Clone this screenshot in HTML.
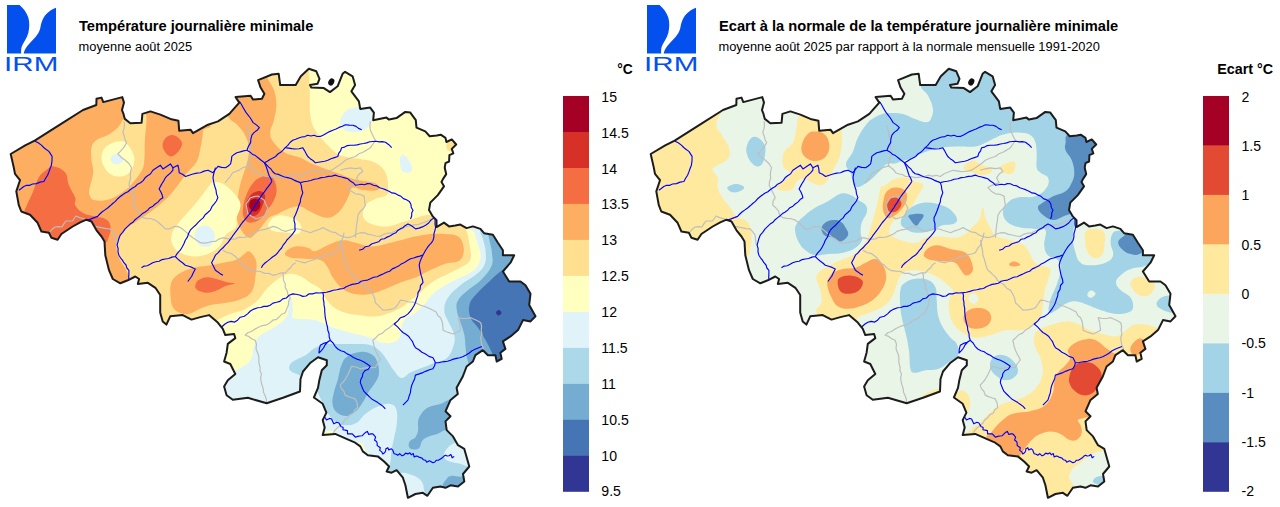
<!DOCTYPE html>
<html><head><meta charset="utf-8"><title>IRM</title>
<style>
html,body{margin:0;padding:0;background:#fff;}
body{width:1280px;height:507px;overflow:hidden;font-family:"Liberation Sans",sans-serif;}
svg{display:block;}
text{font-family:"Liberation Sans",sans-serif;fill:#000;}
.t1{font-size:14.66px;font-weight:bold;}
.t2{font-size:12.85px;}
.lg text{font-size:14.1px;}
</style></head><body>
<svg width="1280" height="507" viewBox="0 0 1280 507">
<defs>
<clipPath id="be"><path d="M10.7,154L25.2,145.4L34.7,140.6L61.5,123.7L83,110L96.3,105L96.5,98.8L101.5,97.6L103.3,102.1L122.3,97.1L124,102.6L122,110.1L123.5,113.9L124.8,118.9L130.3,123.2L141.6,122.7L142.4,113.9L150.4,111.4L160.4,114.6L170.4,118.9L178.4,120.7L179.2,130.7L190.5,129.7L193,133.2L200.5,128.9L208,124.7L218,121.4L229.3,113.9L239.3,102.6L235.6,97.1L250.6,95.8L253.1,99.6L261.9,98.8L264.4,93.8L260.6,87.6L258.1,80.1L271.9,74.5L278.7,73.8L280.2,85.1L295.7,85.1L300.8,76.3L308.8,68.8L316.3,71.3L319.5,78.8L317.5,83.8L310,85L311.3,87.6L323.8,88.1L330,92.1L337.6,86.3L342.6,73.8L345.1,71.8L352.6,76.3L355.1,85.1L351.4,91.3L358.9,101.4L360.2,108.9L370.2,107.6L373.9,112.6L373.2,120.2L386.5,117.6L389,119.6L396.5,118.1L405.3,111.9L410.3,112.6L415.8,120.2L416.5,127.7L425.3,131.4L429.7,136.2L436.8,135.5L440.7,134.7L445.5,137.9L446.4,142L451.8,139.4L456.2,144.5L451.8,148.9L453.3,153.3L449.4,155.2L449.1,161.5L445.5,163.1L444.7,167.8L446.2,174.1L443.1,178.9L441.5,182L444,186.3L437.8,195.1L430.3,202.6L429,210.1L432.8,216.4L436.5,220.1L436.5,227.1L444,222.6L449,226.4L455.3,225.6L460.3,224.6L466.6,228.1L472.9,226.4L480.4,228.9L484.1,233.2L492.9,234.7L497.9,242.7L502.9,250.2L502.9,255.2L514.2,255.2L510.5,262.7L502.9,271.5L509.2,281.5L520.5,281.5L525.5,285.3L530.5,293.8L529.2,305L535.5,316.3L530.5,321.4L523,320.1L518,330.1L510.5,336.4L502.9,341.4L505.4,348.9L500.4,352.7L501.7,358.9L496.7,361.5L495.4,355.2L487.9,355.2L482.9,350.2L475.4,355.2L472.9,361.5L466.6,366.5L462.8,376.5L456.6,387.8L457.8,394L450.3,400.3L445.5,411.3L450.5,416.3L445.5,421.4L446.7,430.1L453,436.4L458,445.2L464.3,448.9L466.8,457.7L469.3,466.5L463,474L464.3,481.5L458,486.5L450.5,485.3L445.5,487.8L440.5,486.5L432.9,487.8L427.4,495.8L422.9,492.8L415.4,494L407.9,497.8L405.4,485.3L402.9,477.7L396.6,470.2L391.6,472.7L386.6,471.5L389.1,466.5L384.1,461.5L377.8,456.4L367.8,455.2L362.8,451.4L360.3,446.4L355.2,442.7L346.5,438.9L335.2,433.9L322.7,435.1L324.7,427.6L322.7,420.1L326.4,412.6L322.7,403.8L313.9,397.5L318,387.8L319.3,380.3L321.8,370.2L326.8,365.2L326.8,360.2L318,357.2L310.5,362.7L303,371.5L300.5,379L300,391.5L283,397.8L266.7,403.3L247.9,397.8L232.8,399.8L226.6,395.3L224.1,386.5L227.8,380.3L235.3,374L230.3,364L224.1,361.5L226.6,352.7L227.8,343.9L235.3,338.1L234.1,333.9L225.3,335.1L222.8,328.9L217.8,322.6L209,315.1L200.3,317.1L191.5,319.6L182.7,315.1L170.2,316.3L166.4,324.6L162.7,321.4L160.2,312.6L160.2,295L155.4,287.8L147.9,282.8L137.8,284L139.1,279L135.3,276.5L127.8,280.3L120.3,283.3L112.8,279L109,270.2L105.3,255.2L104.5,241.6L101.5,236.5L96.5,230.3L91.5,221.5L86.5,219.7L80.2,222.3L72.7,226.5L61.4,234L57.6,239.8L51.4,237.8L48.9,232.8L41.4,231.5L37.6,222.8L30,214.7L21.3,211.5L18.8,205.2L16.3,191.4L20,180.2L15,173.9L13.8,167.6Z"/></clipPath>
<g id="lines">
<g fill="none" stroke="#BEBEBE" stroke-width="1.2" stroke-linejoin="round"><path d="M124.1,121.3L124.5,125.2L123.9,128.9L122.8,132.6L124.2,135.9L125,139.4L126.6,142.6L124.9,145.8L122.8,148.7L120.4,151.4L117.8,153.9L121.3,157.4L125.3,160.2L128.9,163.5L131.6,167.7L130.7,171.1L130.3,174.7L130.7,178.3L129.5,181.7L129.1,185.2L131.2,189.3L133.3,193.4L135.2,197.6L133.1,201.1L132.7,205.1L135.8,207.8L138.4,210.8L139.6,215L142.7,217.6L146.9,218.3L151.1,218.7L155.2,220.1L158.8,222.8L162.1,225.8L165.3,228.9L169.6,228.9L173.5,226.7L177.8,226.4L181.8,228.5L185.3,231.4L189,234.7L192.8,237.7L196.6,240.3L200.4,242.7L204.2,243.2L208,242.7L211.6,241.5L215.4,241.4L218.9,239.1L222.9,237.7L227,238.7L231.1,239.4L235.4,238.9L239,237.2L243.1,237.5L246.9,236.8L250.5,235.2L254,233.8L256.9,231.4L260.5,230.2L264.8,229.4L269,228.1L273,226.4L277.4,227.6L281.3,230L285.6,231.4L290.5,229.7L295.6,228.9L299.6,229L303.2,230.5L306.9,231.5L310.6,232.7L314.7,230.8L319.1,229.5L323.2,227.6L327.1,229.9L331.2,231.8L335.7,232.7L339.5,235.2L343.7,236.9L348.2,237.7L352.6,236.5L356.5,234L360.8,232.7L364.8,232.9L368.4,234.4L372.3,235L376.1,236L380,236.4L383.5,234.4L387.3,233.2L391.5,233.1L395,231L398.8,229.9L402.6,228.8L406,226.6L410,226L413.7,224.8L417.7,224.7L421.3,223.3L425,222L429.9,220.3L434,217"/>
<path d="M50,232L52.2,229.2L55,227L58.5,226.7L62,227L63.8,223.9L66,221L72.5,221L76,216L80.4,217.9L85,219"/>
<path d="M95.1,226.4L98.8,227.1L102.6,227.8L106.3,228.7L110.1,228.9L112.8,231.9L115.1,235.2L115.6,240.2L116.4,245.2"/>
<path d="M246.9,125.1L247.8,128.9L248.6,132.6L249.1,136.5L250.6,140.1L250.2,143.9L250.6,147.7L251.8,151.4L251.9,155.2L249.9,158.2L249.5,161.9L248.1,165.2L250.8,167.5L253.6,169.7L255.6,172.7L259,174L262.6,174.7L265.7,176.5L270.7,176.7L275.7,177.7L279.9,177.1L284.1,176.5L288.2,175.2L292.2,176.1L296.3,175.3L300.3,176.5L304.1,173.7L308.4,172L312.8,170.3L317,170.8L321.1,171.7L325.3,171.5L328.8,170.8L332.2,169.8L335.3,167.8L338.8,165.4L342.2,163L345.4,160.3L348.6,158.7L351.9,157.5L355.4,156.5L358.9,153.8L362.9,152.2L366.7,150.1L370.4,147.7L373,144L375.4,140.2L373.6,137L371.9,133.6L370.4,130.2L369.9,125.8L370.4,121.4"/>
<path d="M225.1,182.8L227.7,179.5L230.4,176.3L232.6,172.8L236.1,171.4L239.5,169.9L242.6,167.8L246.2,166.6L250,166"/>
<path d="M340.4,170.3L345.3,168.8L350.4,167.8L355.4,168.6L360.4,167.8L362.9,171.5L359.2,174.1L356.6,177.8L359.1,182.8L355.1,183.8L351.5,185.6L347.9,187.6L351.3,191.2L355.4,193.8L360,194.3L364.2,196.4L364.6,200.8L365.4,205.1L363.2,208.7L360.1,211.6L357.9,215.2L357.4,220.2L356.6,225.2L356.1,229.4L355.7,233.5L355.4,237.7"/>
<path d="M246,204L248.2,201.1L250,198L253.9,196.6L258,196L260.9,198.1L264,200L265.7,204.2L268,208L266.2,211.9L265,216L260.5,217.5L256,219L252.1,216.4L248,214L246.9,209L246,204"/>
<path d="M295.2,260.3L300.2,261.8L305.3,262.8L309.4,261L313.8,259.8L317.8,257.8L321.1,256.1L324.9,256.1L328.2,254.6L331.8,254L335.3,252.8L337.4,248.7L340.4,245.2L341.4,241.4L342.9,237.7L344.1,232.7"/>
<path d="M340.3,240L341.4,243.7L341.8,247.5L342.7,251.2L342.8,255L344.2,258.7L345.2,262.6L346.3,266.4L347.8,270.1L350.6,272.3L353,274.9L355.8,277.2L357.5,280.5L360.4,282.6L364,284.8L366.7,288.2L370.4,290.1L372.8,294L374.6,298.2L375.4,302.7L378,305.1L380.5,307.6L382.9,310.2L387.2,309.8L391.4,309.2L395.4,307.7L398,304L400.5,300.2L404.3,300.5L407.9,301.8L411.8,302L415.5,302.7L420.5,305.2L424.8,306.5L429,308.2L433,310.2L436.2,312.1L437.8,315.5L440.6,317.7L442.2,321.7L442.8,325.9L443.1,330.2L446.4,331.7L449.7,332.9L453.1,334L456.9,332.3L460.6,330.2L460,326L459.5,321.8L458.1,317.7L462.3,318.5L466.4,318.5L470.6,317.7L474.1,319.2L477.5,320.8L480.7,322.7L481.6,326.4L481.2,330.2L481.9,334L480.7,337.8L481.2,341.6L481.9,345.3L483.4,348.5L484,352"/>
<path d="M282.7,272.6L283.4,276.3L283.4,280.2L285.3,283.7L285.2,287.6L287.2,290.8L287.9,294.6L290.2,297.6L288.7,301.3L288.3,305.3L286.7,309L285.2,312.7L281.8,314.2L279.2,316.8L276.6,319.3L272.8,320.2L270.1,322.7L266.2,324.9L261.7,325.8L257.6,327.7L254.4,329.4L251.4,331.5L247.8,332.7L245.1,335.2L248.7,336.4L251.7,338.7L255.1,340.3L256.5,344.3L256,348.8L257.6,352.8L258.8,356.3L258.8,359.9L259,363.5L260.1,367L259.9,370.7L261.5,374.1L260.6,377.9L261.1,381.5L262,385L263.2,388.5L263.5,392.3L265.2,395.7L266.3,399.3L266.7,403"/>
<path d="M395.4,322.7L392.2,325.4L389,328L385.4,330.2L382.6,333.1L378.7,334.7L375.9,337.7L372.9,340.3L373.9,345.4L375.4,350.3L377,353.6L378.8,356.7L380.3,360L377.5,363.5L375.3,367.5L371.5,367.7L367.8,367.7L364,368.2L360.3,368.8L356,367L351.5,366.3L349.7,370.7L347.7,375.1L345.6,378.8L343.1,382.1L340.2,385.1L341.5,388.6L344,391.5L345.2,395.1L348.4,396.6L351.8,397.8L355.2,398.9L357.1,403.1L357.7,407.6L354.9,409.8L353.2,413.2L349.8,414.8L347.7,417.7L344.8,419.8L343,423L340.2,425.2L337.5,427.6L335.1,430.1L333,433"/>
<path d="M222.9,250.2L227,252.5L231.6,253.7L235.4,256.5L238.2,259.4L240.5,262.7L244.1,264.9L246.9,268.1L250.5,270.3L255.5,271.2L260.5,271.5L264.5,273.4L269,273.4L273,275.3L277.2,274.3L281.3,272.9L285.6,272.8L287.8,270L290.6,267.8L292.6,264.7L295.6,262.7"/></g>
<g fill="none" stroke="#0000FF" stroke-width="1.15" stroke-linejoin="round"><path d="M34.6,140.9L38.2,142.7L41.4,145.1L43.7,147.5L46.2,149.5L48.9,151.4L52.1,156.4L52,160.8L51.4,165.2L50.1,168.5L48.9,171.9L47.6,175.2L45.6,178.3L43.9,181.5L40.1,182.1L36.5,183.6L32.6,184L29.8,185.3L26.6,185.3L23.8,186.5L21.3,188.5L18.8,190.3"/>
<path d="M150.4,174L147.6,175.7L145.1,177.8L143.1,180.6L140.6,182.7L137.6,184.2L135.3,186.5L132.7,188L130.2,189.7L127.9,191.7L125.2,193.1L122.7,194.7L120.3,196.5L117.7,198.7L115.4,201.4L112.7,203.5L110.2,205.8L107.6,208L105,209.9L102.3,211.8L99.8,214L97.6,216.4L94.3,217.6L91,218.9L87.6,220.1L84.5,221.6L81.4,223.1L78,224"/>
<path d="M172.9,167.7L172.9,170.2L170.6,172.9L167.9,175.2L165.4,177.7L163.9,180.6L162.2,183.3L160.6,186.1L159.1,189L160.8,191.8L162.1,194.7L162.9,197.8L160.1,199.6L157.9,202.1L155.2,204L152.9,206.2L149.9,207.7L147.7,210.1L145.2,212L142.5,213.6L140.2,215.7L137.7,217.6L135.1,219.7L132.9,222.3L130.1,224.1L127.7,226.4L124.9,229.1L122.7,232.3L120.2,235.2L118.9,238.5L118,241.8L117.1,245.2L118.1,248.5L118,251.9L118.9,255.2L120.5,257.8L122.4,260.1L123.9,262.7L126,265L126.9,268L128.9,270.3L128.9,273.6L128.7,277L128.9,280.3"/>
<path d="M150.4,174L152.9,170.2L156.6,167.7L160.4,165.2L162.9,168.9L166.7,166.4L170.4,163.9L172.9,167.7L177.9,165.2L178.8,168.9L179.2,172.7L182.5,174.3L185.5,176.5L189.2,175.2L193,174L196.7,173.1L200.5,172.7L204.1,171.1L208,170.2L213,172.7L215.4,169.5L218,166.4L221.7,167.4L225.6,167.7L228.2,166L230.6,163.9L231.4,160.2L231.8,156.4L234.2,154.4L236.8,152.7L240.2,151.9L243.5,150.9L246.9,150.2L248.5,146.3L250.6,142.6L250.9,138.8L251.9,135.1L254.2,132.4L257.1,130.3L259.4,127.6L256.4,124.9L253.1,122.6L251.6,120L250,117.5L248.1,115.1L246.2,112.7L244.6,110.1L243.1,107.5L241.3,104.3L239.3,101.3"/>
<path d="M215.5,167.7L214.5,171L213.6,174.3L213,177.7L213.5,180.8L214.1,184L215,187L216,190L216.5,193.9L217.9,197.6L216.4,201L214.2,203.9L211.9,206.7L210.4,210.1L207.8,212.5L205.1,214.8L203.2,217.9L200.4,220.1L197.9,222.6L195.5,225.3L192.8,227.6L190.3,230.2L188.6,233.5L187.4,237.1L185.3,240.2L183.9,243.7L182.2,247L180.3,250.2L177.5,253.1L175.3,256.5L171.9,257.1L168.7,258.5L165.3,259L162.1,259.6L159.1,261.2L155.8,261.7L152.7,262.7L150.1,264.3L147.3,265.7L144.1,266.1L141.5,267.7"/>
<path d="M175.3,256.5L177.6,258.9L180.1,261L182.8,263L185.3,265.2L188.7,266.3L192.1,267.4L195.3,269L193.3,272.7L191.6,276.5L189.7,279L187.8,281.5"/>
<path d="M271.9,181.5L270.1,184.1L268.2,186.7L266.2,189.2L264.4,191.9L262.4,194.4L260.5,197L258.9,199.6L257.3,202.3L255.5,204.8L254,207.5L252.2,210L250.5,212.6L248.6,215.2L246.6,217.7L244.5,220.1L242.4,222.5L240.5,225.1L238.8,227.7L237,230.2L235.1,232.6L233.2,235.1L231.5,237.7L229.7,240.2L227.9,242.7L225.3,245.1L223,247.8L220.3,250.1L218,252.8L215.4,255.2L213.6,259L211.6,262.7L213.6,266.4L215.4,270.3L217.9,271.9L220.3,273.7L222.9,275.3"/>
<path d="M246.9,150.2L249.8,151.9L252.3,154.2L255.4,155.6L258.1,157.7L261.2,160.3L264.4,162.7L265.9,165.9L267.1,169.3L268.2,172.7L269.2,175.7L270.8,178.5L271.9,181.5"/>
<path d="M264.4,162.7L266.6,164.9L268.8,167.1L271.1,169.2L272.8,171.8L275.2,173.8L278.4,174.4L281.4,175.7L284.5,177L287.7,177.6L291,178.5L294,180.1L297.1,181.4L300.3,182.6"/>
<path d="M264.4,162.7L267.3,161.2L270,159.5L272.9,158L275.7,156.4L277.9,154L280.7,152.3L283,150.1L285.2,147.7L287.8,145.3L290,142.5L292.7,140.2L295.7,139.2L298.7,138L301.7,137L304.9,136.6L307.8,135.2L310.9,136L314.1,135.3L317.1,136.5L320.3,136.4L323.5,134.9L326.5,133.2L329.6,131.6L332.8,130.2L336,129L339.1,127.4L342.3,126.2L345.4,124.7L349.1,125.1L352.9,125.2L356,126.4L358.6,128.4L361.7,129.7"/>
<path d="M285.2,147.7L288.5,148.1L291.9,148.6L295.2,149L299.1,148.8L302.8,147.7L304.5,150.6L306.1,153.6L307.8,156.5L310.2,158.7L313,160.5L315.3,162.8L318.4,162.2L321.6,161.7L324.7,161.2L327.8,160.3L331,158.7L334.4,157.6L337.8,156.5L338.7,153.4L340.6,150.8L341.6,147.7L344.6,147.1L347.3,145.6L350.4,145.2L353.8,145.3L357.1,144.9L360.4,144L363.6,143.5L366.7,142.9L369.7,141.8L372.9,141.5L376.1,141.2L379.2,141.9L382.4,141.6L385.5,142.2L388.8,144.7L391.7,147.7"/>
<path d="M300.3,182.6L303.8,181.8L307.3,181.2L310.8,180.5L314.2,179.2L317.8,178.8L321.2,177.6L324.8,177.2L328.3,176.4L331.9,176.1L335.3,175.1L338.4,176.2L341.6,177L344.7,177.9L347.9,178.8L350.3,181L353.1,182.7L355.4,185.1L358.4,184.8L361.4,184.2L364.4,184.7L367.4,183.6L370.4,183.8L373.4,185.3L376.9,185.9L379.8,187.7L383,188.8L386.1,189.9L389,191.2L391.9,192.9L395.2,193.4L398,195.1L401,196.3L403.4,198.6L406.5,199.8L409.3,201.4L410.9,204.2L411.3,207.5L413,210.2L411.7,213L411.7,216.1L410.5,218.9"/>
<path d="M300.3,182.6L301.4,185.9L301.8,189.3L302.8,192.6L301.7,195.7L300.6,198.7L300.3,202.1L299,205.1L298,208.3L296.8,211.5L295.5,214.7L294,217.7L294.1,220.8L295,223.9L294.9,227.1L295.2,230.2L293.4,232.9L291.4,235.3L289.3,237.7L286.9,240L285.2,242.7L283.1,245.2L281.6,248L279.4,250.4L277.5,253L275.2,255.3L272.5,257L270,259.1L267.5,261.1L265,263L262.7,265.3L261.4,267.8"/>
<path d="M434.3,216.4L435.1,220.1L435,224L435.6,227.7L434.8,230.8L433.9,233.9L433.9,237.1L433.1,240.2L431.4,242.9L429.2,245.1L427.3,247.7L425.6,250.3L423,255"/>
<path d="M359.1,250.3L362.6,249.3L365.4,246.7L369,246L372,243.8L375.4,242.7L378.6,241.8L381,239.3L384.4,238.8L387.2,237.1L390.3,235.8L393,234L395.8,232.8L397.8,230.4L400.4,228.8L403.1,227.5L405.4,225.4L408,223.9L410.7,225.3L413.2,227L415.5,228.9L419,228.1L422.4,226.9L425.6,225.2L428.7,223L431.2,219.9L434.3,217.7"/>
<path d="M423,255L419.9,256.1L416.8,256.9L413.7,258L410.5,258.8L407.5,260.6L404.5,262.4L401.3,263.9L398.6,266.1L395.4,267.6L392.3,268.9L389.7,271.2L386.5,272.3L383.5,273.8L380.4,275.1L377.2,276.8L373.6,277.2L370.4,278.8L367.5,280.1L364.2,280.5L361.1,281.3L358.4,283.2L355.3,283.9L352.1,284.4L349.2,285.5L346.2,286.7L343.5,288.5L340.3,288.9L336.8,289.7L333.3,290.2L329.9,291.4L326.4,292.2L322.8,292.6"/>
<path d="M322.8,292.6L319.4,293L316,292.8L312.7,293.9L309.1,293.8L306.1,296L302.7,296.4L299.5,295L296.1,294.3L292.7,293.9L289.2,295.2L286.4,298L282.7,298.9L280,301.4L276.5,302.3L273,303.1L270.1,305.2L267.1,306.4L263.8,306.4L260.8,307.5L257.6,307.7L253.9,309.1L250.4,311L247.6,313.9L244.3,316.2L240.3,317.2L237.5,320.2L234.7,322.1L231,321.4L227.9,322.3L225,324L221.9,326.7L218,328"/>
<path d="M322.8,292.6L323.5,295.7L323.2,298.9L323.9,302L324,305.2L324.7,308.3L324.7,311.4L325,314.6L325.3,317.7L326,320.8L326.6,323.9L327.5,327L327.8,330.2L329,333.5L329.2,337L330.3,340.3L327.1,342.2L323.5,343.4L320.3,345.3L319.3,349.1L319,353L321.4,350.6L323.5,348L325,345L327.4,342.4L330.3,340.3L333.1,343L335.1,346.3L337.8,349L340.9,350.7L344.2,351.8L347.1,353.9L350.3,355.3L353.4,357.4L356.8,359.1L360.4,360.3L363.9,362L367.1,364.1L370.3,366.3L368.3,369.3L364.8,370.8L362.8,373.8L362.3,376.8L360.8,379.6L360.3,382.6L361.5,385.6L362.6,388.5L364,391.4L367.1,394.5L370.3,397.6L372.5,399.6L375.2,401L377.8,402.6L380.5,404.5L383.1,406.4L385.3,408.9"/>
<path d="M423,255L421.4,258.3L420,261.6L419.2,265.1L419.8,268.9L420.5,272.6L421.3,275.9L422.4,279.2L423,282.6L420.5,285.5L420,289.4L418,292.6L417.7,295.9L416.5,299L415.6,302.2L414.2,305.2L412.4,308.3L410.4,311.2L408,313.9L404.6,316.4L400.5,317.7L397.6,321.1L394.2,324L397.6,326.9L400.5,330.2L402.9,332.5L405.9,334.2L408.5,336.2L410.5,339L412.6,341.7L413.8,344.9L415.5,347.8L418.9,349.7L421.9,352.3L425.5,354L429,356.4L433,357.8L435.5,362.8"/>
<path d="M435.5,362.8L438.6,362.7L441.6,362L444.6,361.6L447.6,361.2L450.6,360.3L453.5,359.1L456.6,358.4L459.7,357.7L462.7,356.7L465.6,355.3L469,353.3L472.1,350.8L475.6,349L478.7,347.7L481.9,346.5"/>
<path d="M435.4,362.5L434.6,365.8L432.9,368.8L429.5,369.8L426.2,371.1L422.9,372.6L419.2,373.9L415.4,375.1L414.6,379L412.9,382.6L411.6,385.8L410.8,389.1L410.4,392.6L409.1,396.3L407.9,400.1L405.4,402.6L402.9,405.1"/>
<path d="M325.2,417.6L326.4,419.9L329.5,418.4L331.6,419L332.7,421.4L333.8,423.8L336.9,422.3L338.9,423L340.2,425.1L341.1,426.7L343.1,427.2L343,429.8L345.2,430.1L347.4,430.6L347.6,433.9L350.2,433.9L352.3,433.9L353.8,435.5L355.4,437.2L357.7,436.4L359.9,436L362.1,435.8L363.7,434.2L365.3,432.6L367.4,431.4L368.8,434.5L370.9,433.9L372.8,433.9L374.3,435.5L375.6,437.2L374.5,440.1L376.5,441.4L377.2,443.1L377.1,445.3L378.6,446.6L380.3,447.7L379.7,450.4L381.8,451.9L382.8,453.9L384.6,452.8L385.6,451L385.9,448.7L387.8,447.7L388.8,449.9L391.4,448.8L392.8,450.2L393.4,452.1L394.2,453.8L396.2,454.3L397.8,455.2L399.7,453.7L402,455.8L403.9,455L405.7,453.1L407.9,453.9L409.9,452.8L411.2,454.8L413.3,453.6L414.2,457L416.2,456L417.9,456.4L419.7,457.4L421.8,458L423.3,459.7L425.4,460.2L426.8,462.2L429.4,460.8L431.2,461.7L432.9,462.7L434.9,462L436.4,460.2L438.7,460.1L440.5,458.9L442.3,457.8L443.7,456.3L445.5,455.2L447.2,456L449,455.8L450.9,454.5L452.2,457.8L454.2,456.4"/></g>
</g>
<g id="logo">
<path fill="#0350EE" d="M7,5H19.5C23,8 26.5,12 28.3,17.5C29.6,22 29.6,28 28.3,33C26.5,39 23,43 21.8,46.5C21,49 21,51.5 21.2,53.6H7Z"/>
<path fill="#0350EE" d="M56,7.8C52,9 48,12 45,15.5C42.5,19 41,23 40.3,28C39.5,31.5 38,34 35.5,37C32,41 27.5,45 25.3,49C24.3,51 23.8,52.5 23.7,53.6H56Z"/>
<text transform="translate(4.1,70.7) scale(1.45,1)" style="font-size:20.4px;fill:#0350EE;">IRM</text>
</g>
</defs>
<rect width="1280" height="507" fill="#fff"/>
<!-- left map -->
<g>
<g clip-path="url(#be)">
<rect x="0" y="60" width="560" height="447" fill="#FEE090"/>
<path fill="#FDAE61" d="M0,90C24,56 79.4,74 120,80C160.6,86 186.4,109.7 203,120C219.6,130.3 203.5,125.9 203,131.4C202.5,136.9 201.8,141.6 200.5,147.6C199.2,153.6 199.6,156.1 196.7,161.4C193.8,166.7 190.5,168.2 186,174C181.5,179.8 178.8,184.5 174,190.3C169.2,196.1 167.6,197.9 162,202.8C156.4,207.7 152.9,210 146,215C139.1,220 133.1,223.1 127.7,227.6C122.3,232.1 121.2,233.7 118.9,237.7C116.6,241.7 116.1,243.2 116.4,247.7C116.7,252.2 118.2,255.7 120.2,260.2C122.2,264.7 124.7,265.5 126.4,270.3C128.1,275.1 131.2,278.1 128.9,284C126.6,289.9 124.8,304.8 115,300C105.2,295.2 103,270 80,260C57,250 16,284 0,250C-16,216 -24,124 0,90Z"/>
<path fill="#FDAE61" d="M228.8,117.6C231.3,121.6 234.3,121.7 237.6,125.2C240.9,128.7 242.8,130.7 245.1,135.2C247.4,139.7 248.4,142.7 248.9,147.7C249.4,152.7 248.6,155.3 247.6,160.3C246.6,165.3 245.4,167.9 243.9,172.8C242.4,177.7 241.4,179.5 240.1,185C238.8,190.5 238.3,193.6 237.6,200.1C236.9,206.6 236,211.7 236.8,217.7C237.6,223.7 239,226.2 241.4,230.2C243.8,234.2 246.2,236.9 248.9,237.7C251.6,238.5 252.3,236.5 255.1,234C257.9,231.5 259.9,228.5 262.7,225.2C265.5,221.9 265.9,220 268.9,217.7C271.9,215.4 273.4,215.8 277.7,213.9C282,212 285.7,209.6 290.2,208.1C294.7,206.6 296.8,206 300.3,206.4C303.8,206.8 304.3,208.4 307.8,210.2C311.3,212 313.8,213.7 317.8,215.2C321.8,216.7 324,218 327.8,217.7C331.6,217.4 333.3,216.4 336.6,213.9C339.9,211.4 341.6,208.9 344.1,205.1C346.6,201.3 347.3,198.6 349.1,195.1C350.9,191.6 350.1,188.6 352.9,187.6C355.7,186.6 358.4,189.5 362.9,190.1C367.4,190.7 372.1,191.2 375.4,190.6C378.7,190 379.7,188.7 379.2,187.1C378.7,185.5 377.7,184.1 372.9,182.6C368.1,181.1 362.6,181.4 355.4,179.5C348.2,177.6 345.5,176.1 337,173C328.5,169.9 320.1,167.1 312.8,164C305.5,160.9 305.8,160 300.3,157.7C294.8,155.4 290.5,155.7 285.2,152.7C279.9,149.7 276.9,146.7 273.9,142.7C270.9,138.7 270.2,137.2 270.2,132.7C270.2,128.2 272.7,125.7 273.9,120.2C275.1,114.7 276.4,111.1 276.4,105.1C276.4,99.1 275.6,95.4 273.9,90.1C272.2,84.8 270.1,83.6 267.7,78.8C265.3,74 267.5,65.8 262,66C256.5,66.2 247.4,72.2 240,80C232.6,87.8 227.2,97.5 225,105C222.8,112.5 226.3,113.6 228.8,117.6Z"/>
<path fill="#FDAE61" d="M285.2,252.8C286.2,250.6 290.7,247.5 295.2,246.5C299.7,245.5 304.2,246.8 307.8,247.7C311.4,248.6 311,250.5 313,251C315,251.5 314.3,251.7 317.8,250.3C321.3,248.9 325.3,246 330.3,244C335.3,242 337.9,240.5 342.9,240.2C347.9,239.9 349.9,241.4 355.4,242.7C360.9,244 364.4,246.2 370.4,246.5C376.4,246.8 379.5,245.3 385.5,244C391.5,242.7 394.5,241.7 400.5,240.2C406.5,238.7 409.5,237.7 415.5,236.5C421.5,235.3 424.6,234.5 430.6,234C436.6,233.5 440.1,233.5 445.6,234C451.1,234.5 454.6,234.3 458.1,236.5C461.6,238.7 462.2,241.5 463.2,245.2C464.2,248.9 464.1,251.8 463.1,255C462.1,258.2 461.6,259.5 458.1,261.3C454.6,263.1 451.1,262 445.6,263.8C440.1,265.6 436.5,267.3 430.5,270.1C424.5,272.9 421.5,275.1 415.5,277.6C409.5,280.1 406.5,280.3 400.5,282.6C394.5,284.9 391.4,286.6 385.4,288.9C379.4,291.2 376.4,292.9 370.4,293.9C364.4,294.9 360.8,294.9 355.3,293.9C349.8,292.9 347.3,292.2 342.8,288.9C338.3,285.6 335.8,281.9 332.8,277.6C329.8,273.3 330.3,271.1 327.8,267.6C325.3,264.1 324.8,261.9 320.3,260.1C315.8,258.3 311.2,259.3 305.2,258.8C299.2,258.3 294.2,258.7 290.2,257.5C286.2,256.3 284.2,255 285.2,252.8Z"/>
<path fill="#FDAE61" d="M170.7,285.2C171.5,281.2 172.1,280.1 174.7,277.3C177.3,274.5 179.4,273.4 183.5,271.4C187.6,269.4 190.3,268.7 195.4,267.5C200.5,266.3 203.3,266.5 209.2,265.5C215.1,264.5 219.5,263.7 225,262.5C230.5,261.3 232.9,261.4 236.8,259.6C240.7,257.8 242.3,255.4 244.7,253.7C247.1,252 246.8,250.9 248.6,251.3C250.4,251.7 252,253.2 253.6,255.6C255.2,258 256.1,259.5 256.5,263.5C256.9,267.5 256.1,270.7 255.5,275.4C254.9,280.1 255,283.3 253.6,287.2C252.2,291.1 251.6,292.5 248.6,295.1C245.6,297.7 243.5,298.4 238.8,300C234.1,301.6 230.5,302 225,303C219.5,304 216.2,303.8 211.1,305C206,306.2 203.6,307.1 199.3,308.9C195,310.7 193.3,313 189.4,313.8C185.5,314.6 182.9,314.2 179.6,312.8C176.3,311.4 174.5,310 172.7,306.9C170.9,303.8 171.1,301.4 170.7,297.1C170.3,292.8 169.9,289.2 170.7,285.2Z"/>
<path fill="#FEE090" d="M124.6,118C127.1,116.7 126.9,120.4 130.3,121C133.7,121.6 139.1,122.8 141.6,121C144.1,119.2 142,112.7 143,112C144,111.3 146.1,112 146.5,117.6C146.9,123.2 145.4,131.1 144.9,140.1C144.4,149.1 145,156.2 144.1,162.7C143.2,169.2 142.7,168.7 140.4,172.7C138.1,176.7 135.8,179.2 132.8,182.7C129.8,186.2 129.8,187 125.3,190.3C120.8,193.6 116.3,197 110.3,199C104.3,201 99.3,201 95.2,200.3C91.1,199.6 90.8,197.8 89.7,195.3C88.6,192.8 89,192.2 89.7,187.7C90.4,183.2 92.8,178.2 93.2,172.7C93.6,167.2 91.8,165.2 91.5,160.2C91.2,155.2 90.5,151.6 91.5,147.6C92.5,143.6 93.2,142.6 96.5,140.1C99.8,137.6 103.5,137.6 107.8,135.1C112.1,132.6 114.4,131 117.8,127.6C121.2,124.2 122.1,119.3 124.6,118Z"/>
<path fill="#FFFFBF" d="M309,55C302.8,59.5 308.8,60 309,67.5C309.2,75 309.5,83.1 309.8,92.6C310.1,102.1 309.2,107.6 310.3,115.1C311.4,122.6 311.8,124.2 315.3,130.2C318.8,136.2 322.8,140.2 327.8,145.2C332.8,150.2 333.9,152.4 340.4,155.2C346.9,158 353.4,157.5 360.4,159C367.4,160.5 370.4,160 375.4,162.8C380.4,165.6 383,168 385.5,172.8C388,177.6 387.8,182.5 388,187C388.2,191.5 389.2,192.7 386.7,195.1C384.2,197.5 379.4,197.1 375.4,198.9C371.4,200.7 369.2,201.1 366.7,203.9C364.2,206.7 363.2,209.4 362.9,212.7C362.6,216 362.9,217.7 365.4,220.2C367.9,222.7 370.9,224 375.4,225.2C379.9,226.4 383,226.9 388,226.4C393,225.9 395.5,224.2 400.5,222.7C405.5,221.2 408,220.4 413,218.9C418,217.4 421.6,215.8 425.6,215.2C429.6,214.6 429.2,215.9 433.1,215.7C437,215.5 435.6,221.1 445,214C454.4,206.9 473,200.8 480,180C487,159.2 496,136 480,110C464,84 428,63 400,50C372,37 358.2,44 340,45C321.8,46 315.2,50.5 309,55Z"/>
<path fill="#FFFFBF" d="M212.9,182.5C215.9,181.8 218.4,181.3 222.9,183.8C227.4,186.3 231.9,190.8 235.4,195.1C238.9,199.4 240.2,200.6 240.5,205.1C240.8,209.6 237.7,213.1 236.7,217.6C235.7,222.1 237.7,224.1 235.4,227.6C233.1,231.1 228.4,231.7 225.4,235.2C222.4,238.7 223.4,241.7 220.4,245.2C217.4,248.7 215.4,250.4 210.4,252.7C205.4,255 201.3,256.5 195.3,256.5C189.3,256.5 184.8,255 180.3,252.7C175.8,250.4 174.6,248.7 172.8,245.2C171,241.7 170.5,239.5 171.5,235.2C172.5,230.9 174.5,228.4 177.8,223.9C181.1,219.4 183.3,217.9 187.8,212.6C192.3,207.3 196.4,202.6 200.4,197.6C204.4,192.6 205.4,190.5 207.9,187.5C210.4,184.5 209.9,183.2 212.9,182.5Z"/>
<path fill="#FFFFBF" d="M268.9,222.7C270.2,220.4 271.9,217.8 275.2,216.4C278.5,215 280.9,214.9 285.2,215.7C289.5,216.5 293.2,217.8 296.5,220.2C299.8,222.6 301.3,224.9 301.5,227.7C301.7,230.5 300.5,233 297.7,234C294.9,235 292.2,233.2 287.7,232.7C283.2,232.2 279,232.5 275.2,231.5C271.4,230.5 270.2,229.5 268.9,227.7C267.6,225.9 267.6,225 268.9,222.7Z"/>
<path fill="#FFFFBF" d="M117.8,141.4C120.8,141.1 122.3,140.3 125.3,142.6C128.3,144.9 131,148.7 132.8,152.7C134.6,156.7 134.8,158.7 134.1,162.7C133.4,166.7 131.9,169.9 129.1,172.7C126.3,175.5 124.1,176.2 120.3,176.5C116.5,176.8 113.6,176 110.3,174C107,172 105.8,169.7 104,166.4C102.2,163.1 101.5,161.2 101.5,157.7C101.5,154.2 102.2,151.7 104,148.9C105.8,146.1 107.5,145.4 110.3,143.9C113.1,142.4 114.8,141.7 117.8,141.4Z"/>
<path fill="#FFFFBF" d="M205,326C209.3,322 211.4,322.6 216.5,320.2C221.6,317.8 224.5,316.2 230.3,313.9C236.1,311.6 239.9,311.7 245.4,308.9C250.9,306.1 253.4,304.4 257.9,300.1C262.4,295.8 263.4,292.1 267.9,287.6C272.4,283.1 276,280.3 280.5,277.5C285,274.7 286.5,274 290.5,273.8C294.5,273.6 296.5,274.5 300.5,276.3C304.5,278.1 306.5,280.5 310.5,283C314.5,285.5 317.3,286 320.3,288.9C323.3,291.8 322.8,294.1 325.3,297.6C327.8,301.1 328.8,303.4 332.8,306.4C336.8,309.4 339.8,310.9 345.3,312.7C350.8,314.5 354.4,314.5 360.4,315.2C366.4,315.9 369.4,316.9 375.4,316.4C381.4,315.9 384.9,314.7 390.4,312.7C395.9,310.7 399,308.9 403,306.4C407,303.9 407.5,302.5 410.5,300.2C413.5,297.9 415,297.6 418,295.1C421,292.6 422,290.6 425.5,287.6C429,284.6 431,282.9 435.5,280.1C440,277.3 443.1,276.3 448.1,273.8C453.1,271.3 456.4,270 460.6,267.6C464.8,265.2 466.9,264.5 469,262C471.1,259.5 470.9,258.4 471,255C471.1,251.6 470.1,248.8 469.5,245C468.9,241.2 468.7,239.6 468,236C467.3,232.4 466,231.2 466,227C466,222.8 449.2,217.4 468,215C486.8,212.6 541.6,154 560,215C578.4,276 632,459 560,520C488,581 273,556 200,520C127,484 194,378.8 195,340C196,301.2 200.7,330 205,326Z"/>
<path fill="#FEE090" d="M447.5,142C449,140.4 453.5,140.4 455,142C456.5,143.6 456.5,148.4 455,150C453.5,151.6 449,151.6 447.5,150C446,148.4 446,143.6 447.5,142Z"/>
<path fill="#E0F3F8" d="M225,378C231.3,372.1 231.5,373.8 236.6,370.3C241.7,366.8 246.9,365.3 250.4,360.3C253.9,355.3 252.1,350.2 254.1,345.2C256.1,340.2 256.1,339 260.4,335.2C264.7,331.4 270.1,330.2 275.4,326.4C280.7,322.6 283.9,321.3 286.7,316.4C289.5,311.5 288.2,305.6 289.2,302C290.2,298.4 290.9,296.9 291.7,298.5C292.5,300.1 292.8,306.3 293,310.1C293.2,313.9 291,315.8 292.5,317.6C294,319.4 295.9,318.4 300.5,318.9C305.1,319.4 309.5,318.7 315.5,320.2C321.5,321.7 323.6,323.9 330.6,326.4C337.6,328.9 342.6,330.4 350.6,332.7C358.6,335 364.2,335.6 370.7,337.7C377.2,339.8 378,342.2 382.9,343C387.8,343.8 391.9,343.1 395.4,341.5C398.9,339.9 399.2,338.3 400.5,335C401.8,331.7 400.5,328.7 401.7,325.2C402.9,321.7 403.9,320.2 406.7,317.7C409.5,315.2 411.7,315.7 415.5,312.7C419.3,309.7 422,306.5 425.5,302.7C429,298.9 429,297.4 433,293.9C437,290.4 440.6,288.1 445.6,285.1C450.6,282.1 453.1,281.3 458.1,278.8C463.1,276.3 466.6,275.3 470.6,272.6C474.6,269.9 476.1,268.6 478.1,265.1C480.1,261.6 480.7,259 480.7,255C480.7,251 479.2,249.2 478.1,245C477,240.8 475.8,238.6 475,234C474.2,229.4 457,224.4 474,222C491,219.6 542.8,162.4 560,222C577.2,281.6 632,460.4 560,520C488,579.6 271,544 200,520C129,496 200,428.4 205,400C210,371.6 218.7,383.9 225,378Z"/>
<path fill="#E0F3F8" d="M110.5,158.9C110.4,157.2 111.5,156 113,155C114.5,154 116.2,153.7 118,154C119.8,154.3 121.1,155.1 122,156.5C122.9,157.9 123.1,159.5 122.5,161C121.9,162.5 120.8,163.5 119,164C117.2,164.5 115.2,164.5 113.5,163.5C111.8,162.5 110.6,160.6 110.5,158.9Z"/>
<path fill="#E0F3F8" d="M195.3,231.4C196.3,228.9 197.6,227.4 200.4,226.4C203.2,225.4 206.4,225.1 209.1,226.4C211.8,227.7 213.1,229.9 214.1,232.7C215.1,235.5 215.1,237.5 214.1,240.2C213.1,242.9 211.8,245.4 209.1,246.4C206.4,247.4 203.2,246.7 200.4,245.2C197.6,243.7 196.3,241.7 195.3,238.9C194.3,236.1 194.3,233.9 195.3,231.4Z"/>
<path fill="#E0F3F8" d="M340.4,120.2C341.2,117.2 342.4,113.9 345.4,111.4C348.4,108.9 350.4,108.3 355.4,107.6C360.4,106.9 367.1,105.5 370.4,108C373.7,110.5 372.7,116.3 372,120.2C371.3,124.1 369,125.5 366.7,127.7C364.4,129.9 364.2,130.7 360.4,131.4C356.6,132.1 351.7,132.4 347.9,131.4C344.1,130.4 343.1,128.6 341.6,126.4C340.1,124.2 339.6,123.2 340.4,120.2Z"/>
<path fill="#E0F3F8" d="M400.5,156.5C401.4,155 402.3,153.9 404.3,155.2C406.3,156.5 409,159.8 410.5,162.8C412,165.8 412.5,168.3 411.8,170.3C411.1,172.3 408.8,172.8 406.8,172.8C404.8,172.8 403.2,172.3 401.8,170.3C400.4,168.3 400.3,165.6 400,162.8C399.7,160 399.6,158 400.5,156.5Z"/>
<path fill="#ABD9E9" d="M289.2,367.8C289.4,365.7 289.7,364 293,361.5C296.3,359 301,358 305.5,355.2C310,352.4 311,349.9 315.5,347.7C320,345.5 322.6,344.7 328.1,344C333.6,343.3 337.1,344 343.1,344C349.1,344 352.6,343.8 358.1,344C363.6,344.2 366.3,343.8 370.7,345.2C375.1,346.6 376.7,348 380,351C383.3,354 384.3,356.2 387,360C389.7,363.8 390.6,366.4 393.5,370C396.4,373.6 398.2,377.5 401.6,378C405,378.5 406.1,374.7 410.4,372.6C414.7,370.5 417.9,369.5 422.9,367.5C427.9,365.5 430.6,364.4 435.4,362.5C440.2,360.6 443.5,361.1 447,358C450.5,354.9 451.6,351.6 453.1,347C454.6,342.4 455.3,340.4 454.3,335.2C453.3,330 450.1,326 448.1,321C446.1,316 444.3,314.9 444.3,310.2C444.3,305.5 444.8,302.6 448.1,297.6C451.4,292.6 455.1,289.6 460.6,285.1C466.1,280.6 470.8,279.1 475.6,275.1C480.4,271.1 482.4,269.6 484.4,265.1C486.4,260.6 485.9,257.5 485.7,252.5C485.5,247.5 484.3,244.5 483.2,240C482.1,235.5 480.2,234 480,230C479.8,226 466,221.6 482,220C498,218.4 544.4,162 560,222C575.6,282 592,460.4 560,520C528,579.6 436,529 400,520C364,511 392,489 380,475C368,461 353,458 340,450C327,442 321.4,445.4 315,435C308.6,424.6 310,409 308,398C306,387 306.8,384.6 305,380C303.2,375.4 301.6,376.6 299,375C296.4,373.4 294,373.4 292,372C290,370.6 289,369.9 289.2,367.8Z"/>
<path fill="#E0F3F8" d="M313.9,387.6C316.6,387.6 318.6,395.1 321.4,400.1C324.2,405.1 324.9,408.4 327.7,412.7C330.5,417 331.7,418.9 335.2,421.4C338.7,423.9 340.9,424.9 345.2,425.2C349.5,425.5 352.5,425 356.5,422.7C360.5,420.4 361,417.2 365.3,413.9C369.6,410.6 372.8,408.4 377.8,406.4C382.8,404.4 386.5,403.1 390.3,403.9C394.1,404.7 395.3,405.9 396.6,410.2C397.9,414.5 397.1,419.7 396.6,425.2C396.1,430.7 395.1,432.7 394.1,437.7C393.1,442.7 392.4,445.3 391.6,450.3C390.8,455.3 391.1,459.3 390.3,462.8C389.5,466.3 390.9,466.4 387.8,467.8C384.7,469.2 384.6,473.6 375,470C365.4,466.4 352,456 340,450C328,444 321.4,450 315,440C308.6,430 308.2,410.5 308,400C307.8,389.5 311.2,387.6 313.9,387.6Z"/>
<path fill="#E0F3F8" d="M443.9,456.9C443,454.1 445.2,451 447.3,448.3C449.4,445.6 451.3,444.5 454.2,443.2C457.1,441.9 458.4,439.6 462,442C465.6,444.4 470.4,450.2 472,455C473.6,459.8 472.4,464.2 470,466C467.6,467.8 463.9,464.6 460.2,463.8C456.5,463 454.9,463.5 451.6,462.1C448.3,460.7 444.8,459.7 443.9,456.9Z"/>
<path fill="#E0F3F8" d="M400.9,473.2C404.2,472.4 405.4,473.2 408.7,474.1C412,475 414.6,475.8 417.3,477.5C420,479.2 421,480.1 422.4,482.7C423.8,485.3 423.6,486.9 424.1,490.4C424.6,493.9 429.8,497.1 425,500C420.2,502.9 406.6,509.4 400,505C393.4,500.6 391.8,484.4 392,478C392.2,471.6 397.6,474 400.9,473.2Z"/>
<path fill="#FFFFBF" d="M325,432C326.6,430.8 331.2,430.2 333,431C334.8,431.8 335.6,434.8 334,436C332.4,437.2 326.8,437.8 325,437C323.2,436.2 323.4,433.2 325,432Z"/>
<path fill="#FFFFBF" d="M358,443C358.4,441.8 360.6,442.4 362,444C363.4,445.6 365.4,449.8 365,451C364.6,452.2 361.4,451.6 360,450C358.6,448.4 357.6,444.2 358,443Z"/>
<path fill="#74ADD1" d="M487,226C486.9,230.4 488.4,234.7 489.4,240C490.4,245.3 491.5,247.3 491.9,252.5C492.3,257.7 493.7,260.5 491.5,266C489.3,271.5 485.7,275.2 481,280C476.3,284.8 472.7,286.1 468.1,290.1C463.5,294.1 460.4,296.2 458.1,300.2C455.8,304.2 456.3,305.7 456.8,310.2C457.3,314.7 459.1,317.7 460.6,322.7C462.1,327.7 463.4,330.2 464.4,335.2C465.4,340.2 465.1,343.3 465.6,347.8C466.1,352.3 465.9,354.2 466.9,357.8C467.9,361.4 468,362.8 470.6,366C473.2,369.2 462.1,372.8 480,374C497.9,375.2 544,402.4 560,372C576,341.6 574,252.8 560,222C546,191.2 504.6,217.2 490,218C475.4,218.8 487.1,221.6 487,226Z"/>
<path fill="#74ADD1" d="M341.5,365C343.5,360.2 343.9,358.9 347.7,356.3C351.5,353.7 355.8,352.5 360.3,352C364.8,351.5 367.1,352.2 370.3,353.8C373.5,355.4 374.8,356.2 376.5,360C378.2,363.8 379.2,368.1 379,372.6C378.8,377.1 377.4,378.7 375.3,382.6C373.2,386.5 371,388.1 368.5,392C366,395.9 365.5,398.2 363,402C360.5,405.8 359.2,408.2 356,411C352.8,413.8 350.8,415.7 347,416C343.2,416.3 339.9,414.9 337,412.5C334.1,410.1 333.1,408 332.5,404C331.9,400 332.9,397.4 333.9,392.6C334.9,387.8 336.2,385.6 337.7,380.1C339.2,374.6 339.5,369.8 341.5,365Z"/>
<path fill="#74ADD1" d="M420.4,415.2C422.4,412.3 423.9,409.9 427.9,407.6C431.9,405.3 435.7,405 440.5,403.9C445.3,402.8 449.3,397.2 452,402C454.7,406.8 455.5,422.3 454,428C452.5,433.7 447.9,429.2 444.7,430.3C441.5,431.4 441,432.5 437.9,433.7C434.8,434.9 432.4,434.9 429.3,436.3C426.2,437.7 424.5,438.2 422.4,440.6C420.3,443 421.1,446.6 419,448.3C416.9,450 414.2,449.7 412.1,449.2C410,448.7 409,447.5 408.7,445.8C408.4,444.1 409,442.3 410.4,440.6C411.8,438.9 414,439.3 415.5,437.2C417,435.1 417.6,433.3 418.1,430.3C418.6,427.3 417.5,425 418,422C418.5,419 418.4,418.1 420.4,415.2Z"/>
<path fill="#74ADD1" d="M443,486.1C442.3,483.7 444.7,481.3 446.4,479.2C448.1,477.1 448.8,476.3 451.6,475.8C454.4,475.3 456.5,476.7 460.2,476.7C463.9,476.7 468.4,472.9 470,476C471.6,479.1 472,489 468,492C464,495 454.9,492.2 449.9,491C444.9,489.8 443.7,488.5 443,486.1Z"/>
<path fill="#4575B4" d="M520,268C509,267.5 509.6,268.2 505,269.5C500.4,270.8 500.3,271.9 496.9,274.5C493.5,277.1 492.5,278.5 488.2,282.6C483.9,286.7 479.4,290.6 475.6,295.1C471.8,299.6 470.4,300.7 469.4,305.2C468.4,309.7 468.9,313.2 470.6,317.7C472.3,322.2 475.1,323.2 478.1,327.7C481.1,332.2 482.9,335.3 485.7,340.3C488.5,345.3 489.9,348.5 491.9,352.8C493.9,357.1 492.1,359 495.7,362C499.3,365 497.1,367.4 510,368C522.9,368.6 550,384.2 560,365C570,345.8 568,291.4 560,272C552,252.6 531,268.5 520,268Z"/>
<path fill="#313695" d="M496,312.7C496,311.6 497.6,310 498.7,310C499.8,310 501.5,311.6 501.5,312.7C501.5,313.8 499.8,315.5 498.7,315.5C497.6,315.5 496,313.8 496,312.7Z"/>
<path fill="#F46D43" d="M53.9,166.4C57.7,166.9 62.2,168.8 65.2,172.6C68.2,176.4 66.9,180.2 68.9,185.2C70.9,190.2 73.9,193.7 75.2,197.7C76.5,201.7 73.7,202.2 75.2,205.2C76.7,208.2 78.7,210.4 82.7,212.7C86.7,215 90.7,215.2 95.2,216.5C99.7,217.8 102.3,217.2 105.3,219C108.3,220.8 109.6,221.9 110.3,225.3C111,228.7 111.1,232.1 109,236C106.9,239.9 109.8,242.2 100,245C90.2,247.8 74,254 60,250C46,246 37,232.6 30,225C23,217.4 25.7,215.7 25,212C24.3,208.3 24.8,210.4 26.3,206.5C27.8,202.6 30.1,198.5 32.6,192.7C35.1,186.9 36,182.1 38.8,177.6C41.6,173.1 43.4,172.3 46.4,170.1C49.4,167.9 50.1,165.9 53.9,166.4Z"/>
<path fill="#F46D43" d="M171.7,135.1C175,135.1 178.6,137.6 180.5,140.1C182.4,142.6 182.8,144.3 181,147.6C179.2,150.9 175.2,156.1 171.7,156.4C168.2,156.7 164.9,152.2 163.4,148.9C161.9,145.6 162.5,142.9 164.2,140.1C165.9,137.3 168.4,135.1 171.7,135.1Z"/>
<path fill="#F46D43" d="M195.4,285.2C195.9,283.6 195.9,281.9 198.3,280.3C200.7,278.7 203.4,277.5 207.2,277.3C211,277.1 213.2,278.3 217.1,279.3C221,280.3 223.4,281.4 226.9,282.3C230.4,283.2 235.2,282.8 234.8,283.6C234.4,284.4 228.5,284.9 225,286.2C221.5,287.5 220.7,288.9 217.1,290.2C213.5,291.5 210.8,292.5 207.2,292.7C203.6,292.9 201.6,292 199.3,291.1C197,290.2 196.6,289.4 195.8,288.2C195,287 194.9,286.8 195.4,285.2Z"/>
<path fill="#F46D43" d="M260.2,177.6C263.7,176.1 267.2,175.3 270.2,176.3C273.2,177.3 274,179.3 275.2,182.6C276.4,185.9 276.9,188.6 276.4,192.6C275.9,196.6 274.7,198.8 272.7,202.6C270.7,206.4 268.9,208.1 266.4,211.4C263.9,214.7 263.5,216.6 260.2,218.9C256.9,221.2 253.4,222.9 250.1,222.7C246.8,222.5 245.3,220.7 243.9,217.7C242.5,214.7 242.6,212.1 243.1,207.6C243.6,203.1 244.5,199.9 246.4,195.1C248.3,190.3 249.8,187.3 252.6,183.8C255.4,180.3 256.7,179.1 260.2,177.6Z"/>
<path fill="#D73027" d="M253.9,192.6C256.4,191.4 259.1,190.6 261.4,191.4C263.7,192.2 264.9,193.7 265.2,196.4C265.5,199.1 264,201.8 262.7,205.1C261.4,208.4 260.9,210.4 258.9,212.7C256.9,215 254.9,216.4 252.6,216.4C250.3,216.4 248.8,215.2 247.6,212.7C246.4,210.2 246.1,206.9 246.4,203.9C246.7,200.9 247.4,199.9 248.9,197.6C250.4,195.3 251.4,193.8 253.9,192.6Z"/>
<path fill="#A50026" d="M251.4,200.1C252.8,199.3 254.6,198.4 256.4,198.9C258.2,199.4 259.7,200.6 260.2,202.6C260.7,204.6 260.2,207.1 258.9,208.9C257.6,210.7 255.8,211.7 253.9,211.4C252,211.1 250.5,209.3 249.6,207.6C248.7,205.9 249.2,204.6 249.6,203.1C250,201.6 250,200.9 251.4,200.1Z"/>
<use href="#lines"/>
</g>
<path d="M10.7,154L25.2,145.4L34.7,140.6L61.5,123.7L83,110L96.3,105L96.5,98.8L101.5,97.6L103.3,102.1L122.3,97.1L124,102.6L122,110.1L123.5,113.9L124.8,118.9L130.3,123.2L141.6,122.7L142.4,113.9L150.4,111.4L160.4,114.6L170.4,118.9L178.4,120.7L179.2,130.7L190.5,129.7L193,133.2L200.5,128.9L208,124.7L218,121.4L229.3,113.9L239.3,102.6L235.6,97.1L250.6,95.8L253.1,99.6L261.9,98.8L264.4,93.8L260.6,87.6L258.1,80.1L271.9,74.5L278.7,73.8L280.2,85.1L295.7,85.1L300.8,76.3L308.8,68.8L316.3,71.3L319.5,78.8L317.5,83.8L310,85L311.3,87.6L323.8,88.1L330,92.1L337.6,86.3L342.6,73.8L345.1,71.8L352.6,76.3L355.1,85.1L351.4,91.3L358.9,101.4L360.2,108.9L370.2,107.6L373.9,112.6L373.2,120.2L386.5,117.6L389,119.6L396.5,118.1L405.3,111.9L410.3,112.6L415.8,120.2L416.5,127.7L425.3,131.4L429.7,136.2L436.8,135.5L440.7,134.7L445.5,137.9L446.4,142L451.8,139.4L456.2,144.5L451.8,148.9L453.3,153.3L449.4,155.2L449.1,161.5L445.5,163.1L444.7,167.8L446.2,174.1L443.1,178.9L441.5,182L444,186.3L437.8,195.1L430.3,202.6L429,210.1L432.8,216.4L436.5,220.1L436.5,227.1L444,222.6L449,226.4L455.3,225.6L460.3,224.6L466.6,228.1L472.9,226.4L480.4,228.9L484.1,233.2L492.9,234.7L497.9,242.7L502.9,250.2L502.9,255.2L514.2,255.2L510.5,262.7L502.9,271.5L509.2,281.5L520.5,281.5L525.5,285.3L530.5,293.8L529.2,305L535.5,316.3L530.5,321.4L523,320.1L518,330.1L510.5,336.4L502.9,341.4L505.4,348.9L500.4,352.7L501.7,358.9L496.7,361.5L495.4,355.2L487.9,355.2L482.9,350.2L475.4,355.2L472.9,361.5L466.6,366.5L462.8,376.5L456.6,387.8L457.8,394L450.3,400.3L445.5,411.3L450.5,416.3L445.5,421.4L446.7,430.1L453,436.4L458,445.2L464.3,448.9L466.8,457.7L469.3,466.5L463,474L464.3,481.5L458,486.5L450.5,485.3L445.5,487.8L440.5,486.5L432.9,487.8L427.4,495.8L422.9,492.8L415.4,494L407.9,497.8L405.4,485.3L402.9,477.7L396.6,470.2L391.6,472.7L386.6,471.5L389.1,466.5L384.1,461.5L377.8,456.4L367.8,455.2L362.8,451.4L360.3,446.4L355.2,442.7L346.5,438.9L335.2,433.9L322.7,435.1L324.7,427.6L322.7,420.1L326.4,412.6L322.7,403.8L313.9,397.5L318,387.8L319.3,380.3L321.8,370.2L326.8,365.2L326.8,360.2L318,357.2L310.5,362.7L303,371.5L300.5,379L300,391.5L283,397.8L266.7,403.3L247.9,397.8L232.8,399.8L226.6,395.3L224.1,386.5L227.8,380.3L235.3,374L230.3,364L224.1,361.5L226.6,352.7L227.8,343.9L235.3,338.1L234.1,333.9L225.3,335.1L222.8,328.9L217.8,322.6L209,315.1L200.3,317.1L191.5,319.6L182.7,315.1L170.2,316.3L166.4,324.6L162.7,321.4L160.2,312.6L160.2,295L155.4,287.8L147.9,282.8L137.8,284L139.1,279L135.3,276.5L127.8,280.3L120.3,283.3L112.8,279L109,270.2L105.3,255.2L104.5,241.6L101.5,236.5L96.5,230.3L91.5,221.5L86.5,219.7L80.2,222.3L72.7,226.5L61.4,234L57.6,239.8L51.4,237.8L48.9,232.8L41.4,231.5L37.6,222.8L30,214.7L21.3,211.5L18.8,205.2L16.3,191.4L20,180.2L15,173.9L13.8,167.6Z" fill="none" stroke="#1c1c1c" stroke-width="2" stroke-linejoin="round"/>
<ellipse cx="331.3" cy="82" rx="2.8" ry="3.7" transform="rotate(30 331.3 82)" fill="#111"/>
</g>
<!-- right map -->
<g transform="translate(640,0)">
<g clip-path="url(#be)">
<rect x="0" y="60" width="560" height="447" fill="#E9F6E7"/>
<path fill="#FEE99E" d="M81.5,106C89.8,107.3 82.5,107.5 81.5,111.3C80.5,115.1 76.2,120.1 76.4,125.1C76.6,130.1 80.2,131.9 82.7,136.4C85.2,140.9 88,143.1 89,147.6C90,152.1 90.5,155.1 87.7,158.9C84.9,162.7 78.2,164.1 75.2,166.4C72.2,168.7 72.2,167.9 72.7,170.2C73.2,172.5 76.7,174.2 77.7,177.7C78.7,181.2 76.7,183.6 77.7,187.7C78.7,191.8 80.2,194 82.7,198C85.2,202 87.4,203.9 90.2,207.6C93,211.3 93.5,213.9 96.5,216.4C99.5,218.9 102.5,217.9 105.3,220.1C108.1,222.3 109.1,223.6 110.3,227.6C111.5,231.6 111.5,236.2 111.5,240.2C111.5,244.2 111,244.5 110.3,247.7C109.6,250.9 110.9,253.1 107.8,256C104.7,258.9 104.6,263.2 95,262C85.4,260.8 79,256.4 60,250C41,243.6 12,252 0,230C-12,208 -8,165 0,140C8,115 23.7,111.8 40,105C56.3,98.2 73.2,104.7 81.5,106Z"/>
<path fill="#FEE99E" d="M159.1,116.3C156.4,121 157.8,122.3 156.6,127.6C155.4,132.9 155.1,138.1 152.9,142.6C150.7,147.1 147.5,146.9 145.4,150.2C143.3,153.5 142.7,155.4 142.4,158.9C142.1,162.4 142.5,164.9 144.1,167.7C145.7,170.5 149.6,170.7 150.4,172.7C151.2,174.7 149.9,175.7 147.9,177.7C145.9,179.7 142.7,180.7 140.4,182.7C138.1,184.7 136.1,186.1 136.6,187.7C137.1,189.3 139.6,190.5 142.9,190.8C146.2,191.1 150.2,190.9 152.9,189C155.6,187.1 154.6,183.5 156.6,181.5C158.6,179.5 160.1,179 162.9,179C165.7,179 167.4,180.3 170.4,181.5C173.4,182.7 174.9,185 177.9,185.2C180.9,185.4 182.5,185.7 185.5,182.7C188.5,179.7 190.3,175.2 193,170.2C195.7,165.2 197.4,162.7 199.2,157.7C201,152.7 201.3,149.9 201.8,145.1C202.3,140.3 202.1,137.7 201.8,133.9C201.5,130.1 202.9,130.4 200.5,126C198.1,121.6 196.1,116.4 190,112C183.9,107.6 176.2,103.1 170,104C163.8,104.9 161.8,111.6 159.1,116.3Z"/>
<path fill="#FEE99E" d="M245.1,185.3C248,183.5 250.6,180.5 255.1,179C259.6,177.5 263.7,177.3 267.7,177.8C271.7,178.3 272.1,180.2 275.2,181.6C278.3,183 282.6,182.3 283.2,185C283.8,187.7 280.7,190.6 278.2,195.1C275.7,199.6 273.7,203.6 270.7,207.6C267.7,211.6 266.7,212.3 263.2,215.1C259.7,217.9 255.9,218.4 253.1,221.4C250.3,224.4 249.8,227.3 249.4,230.2C249,233.1 248.2,233.5 251.3,235.7C254.4,237.9 259.8,240 265.1,241.4C270.4,242.8 273.6,243.4 277.6,242.7C281.6,242 280.7,239 285.2,237.7C289.7,236.4 294.2,236.4 300.2,236.4C306.2,236.4 310.2,238.2 315.2,237.7C320.2,237.2 321.8,236.2 325.3,233.9C328.8,231.6 330.1,229.2 332.8,226.4C335.5,223.6 337,223.9 339,220.1C341,216.3 341.5,208.1 342.8,207.6C344.1,207.1 343.8,213.6 345.3,217.6C346.8,221.6 348.3,224.1 350.3,227.6C352.3,231.1 352.3,232.9 355.3,235.2C358.3,237.5 361.4,237.7 365.4,238.9C369.4,240.1 371.4,239.9 375.4,241.4C379.4,242.9 382.4,243.6 385.4,246.4C388.4,249.2 388.4,251.9 390.4,255.2C392.4,258.5 392.4,260.4 395.4,262.7C398.4,265 402.5,265 405.5,266.5C408.5,268 410,267.5 410.5,270.3C411,273.1 409.2,276 408,280.3C406.8,284.6 405.5,287 404.5,292C403.5,297 403.6,300 402.8,305.1C402,310.2 402.3,313.3 400.3,317.6C398.3,321.9 396.8,323.9 392.8,326.4C388.8,328.9 385.8,329.4 380.3,330.2C374.8,331 371.2,329.2 365.2,330.2C359.2,331.2 356.2,333.7 350.2,335.2C344.2,336.7 340.6,338.2 335.1,337.7C329.6,337.2 327.1,335.7 322.6,332.7C318.1,329.7 315.4,327.6 312.6,322.6C309.8,317.6 309.3,312.7 308.8,307.6C308.3,302.5 309.3,300.3 310.1,297C310.9,293.7 313.4,293.7 313,291.3C312.6,288.9 311,287.8 308,285C305,282.2 302,279.9 298,277.5C294,275.1 292.1,274.4 288,273C283.9,271.6 281.8,270.9 277.6,270.5C273.4,270.1 270.4,269.9 267,271C263.6,272.1 262.5,273.2 260.4,276C258.3,278.8 258.1,281.2 256.6,285C255.1,288.8 255.1,291.1 252.9,295.1C250.7,299.1 249.9,301.6 245.4,305.1C240.9,308.6 235.8,310.1 230.3,312.6C224.8,315.1 220.9,314.9 217.8,317.6C214.7,320.3 221.6,324.7 215,326C208.4,327.3 192.7,326.9 185,324C177.3,321.1 177.1,315.6 176.4,311.3C175.7,307 180.7,306.8 181.5,302.6C182.3,298.4 181.2,294.9 180.2,290.1C179.2,285.3 176.6,282.4 176.4,278.8C176.2,275.2 176.9,274.5 179.2,272C181.5,269.5 183.7,268.9 188,266.5C192.3,264.1 195.5,262.5 200.5,260.2C205.5,257.9 209,257.7 213,255.2C217,252.7 218.1,250.2 220.6,247.7C223.1,245.2 223.6,246.7 225.6,242.7C227.6,238.7 228.9,233.1 230.6,227.6C232.3,222.1 232.8,220.6 234.3,215.1C235.8,209.6 236.8,205.5 238.1,200.1C239.4,194.7 239.2,191 240.6,188C242,185 242.2,187.1 245.1,185.3Z"/>
<path fill="#FEE99E" d="M394,337.7C394.5,334.2 394.5,332.7 397.8,330.2C401.1,327.7 404.8,326.9 410.3,325.1C415.8,323.3 419.9,321.6 425.4,321.4C430.9,321.2 432.9,322.1 437.9,323.9C442.9,325.7 445.4,328.2 450.4,330.2C455.4,332.2 458,332.7 463,333.9C468,335.1 471.5,336.6 475.5,336.4C479.5,336.2 480,334.7 483,332.7C486,330.7 487,328.2 490.5,326.4C494,324.6 496.1,323.9 500.6,323.9C505.1,323.9 508.8,325.2 513.1,326.4C517.4,327.6 515.6,327.3 522,330C528.4,332.7 540.4,326 545,340C549.6,354 558,365 545,400C532,435 509,492 480,515C451,538 424,524 400,515C376,506 375,484.6 360,470C345,455.4 330.7,450.2 325,442C319.3,433.8 328.4,432.8 331.4,428.9C334.4,425 336.4,425.9 340.2,422.6C344,419.3 346.2,416.1 350.2,412.6C354.2,409.1 356.3,407.4 360.3,405.1C364.3,402.8 365.8,402.8 370.3,401.3C374.8,399.8 378.3,399.5 382.8,397.5C387.3,395.5 389.8,393.8 392.8,391.3C395.8,388.8 396.3,387.1 397.8,385C399.3,382.9 399.5,383.9 400.5,381C401.5,378.1 402.8,375 402.8,370.3C402.8,365.6 401.8,362.2 400.3,357.7C398.8,353.2 396.6,351.7 395.3,347.7C394,343.7 393.5,341.2 394,337.7Z"/>
<path fill="#FEE99E" d="M324.1,166.5C325.6,164.5 329.3,160.5 332.8,160.3C336.3,160.1 338.1,163.8 341.6,165.3C345.1,166.8 348.4,166.6 350.4,167.8C352.4,169 353.1,170 351.6,171.5C350.1,173 346.7,175 342.9,175.3C339.1,175.6 336.3,173.8 332.8,172.8C329.3,171.8 327,171.6 325.3,170.3C323.6,169 322.6,168.5 324.1,166.5Z"/>
<path fill="#FEE99E" d="M360.4,166.5C362.6,164.5 369.9,161.2 372.9,161.5C375.9,161.8 375.9,165.3 375.4,167.8C374.9,170.3 373.1,173.3 370.4,174C367.7,174.7 363.7,173 361.7,171.5C359.7,170 358.2,168.5 360.4,166.5Z"/>
<path fill="#FEE99E" d="M312,398C310.5,396 313,395.3 315.1,393.8C317.2,392.3 319.9,390 322.7,390.5C325.5,391 327.4,393.4 328.9,396.3C330.4,399.2 330.5,402.1 330.2,405.1C329.9,408.1 328.7,411.6 327.2,411.3C325.7,411 325.7,406.5 322.7,403.8C319.7,401.1 313.5,400 312,398Z"/>
<path fill="#FEE99E" d="M280,400C278.8,398.7 281.6,396.3 284,394.5C286.4,392.7 288.8,392.2 292,391C295.2,389.8 297.8,388.1 300,388.5C302.2,388.9 305,390.5 303,393C301,395.5 294.6,399.6 290,401C285.4,402.4 281.2,401.3 280,400Z"/>
<path fill="#E9F6E7" d="M430.4,480.3C427.7,475.5 429.7,473.7 431.7,470.2C433.7,466.7 436.7,465.7 440.5,462.7C444.3,459.7 446.5,457.5 450.5,455.2C454.5,452.9 455.4,452 460.5,451.4C465.6,450.8 472.9,443.9 476,452C479.1,460.1 482.2,483.6 476,492C469.8,500.4 454.1,496.3 445,494C435.9,491.7 433.1,485.1 430.4,480.3Z"/>
<path fill="#E9F6E7" d="M328.5,298.5C328.3,296.7 329.6,295.4 331,294.5C332.4,293.6 334.1,293.3 335.5,294C336.9,294.7 337.8,296.3 338,298C338.2,299.7 337.7,301.4 336.5,302.5C335.3,303.6 333.6,304.3 332,303.5C330.4,302.7 328.7,300.3 328.5,298.5Z"/>
<path fill="#A3D3E6" d="M241,114.5C244.4,113.4 245.8,113.1 250.1,113C254.4,112.9 257.7,112.7 262.7,113.9C267.7,115.1 270.4,117.2 275.2,118.9C280,120.6 283.2,122.5 286.5,122.2C289.8,121.9 290.3,120.5 291.5,117.6C292.7,114.7 293.5,112.1 292.7,107.6C291.9,103.1 290,99.4 287.7,95.1C285.4,90.8 280.5,89.4 281,86C281.5,82.6 286.2,83.2 290,78C293.8,72.8 289,64.6 300,60C311,55.4 311,41 345,55C379,69 445,98 470,130C495,162 462,195 470,215C478,235 499,222 510,230C521,238 524.6,248.6 525,255C525.4,261.4 516.4,259.7 512,262C507.6,264.3 507.5,265.1 503.2,266.5C498.9,267.9 495.2,267.2 490.7,269C486.2,270.8 483.6,272.6 480.7,275.3C477.8,278 476,279.5 476,282.5C476,285.5 477.6,287.1 480.5,290.1C483.4,293.1 488,294.1 490.5,297.6C493,301.1 493.5,304.6 493,307.6C492.5,310.6 491.5,311.3 488,312.6C484.5,313.9 481,314.4 475.5,313.9C470,313.4 466,311.9 460.5,310.1C455,308.3 452.9,306.9 447.9,305.1C442.9,303.3 439.9,301.6 435.4,301.3C430.9,301 429.2,302 425.4,303.8C421.6,305.6 419.9,308.3 416.6,310.1C413.3,311.9 410.4,314.6 409.1,312.6C407.8,310.6 408.8,305.6 410.3,300.1C411.8,294.6 414.6,291 416.6,285C418.6,279 420.2,275.3 420.5,270.3C420.8,265.3 420.5,263.2 418,260.2C415.5,257.2 410.8,258.2 408,255.2C405.2,252.2 404.7,250.2 404.2,245.2C403.7,240.2 407.3,233.5 405.5,230.2C403.7,226.9 400.4,229.4 395.4,228.9C390.4,228.4 385.9,228.9 380.4,227.6C374.9,226.3 371.4,225.6 367.9,222.6C364.4,219.6 362.9,216.6 362.9,212.6C362.9,208.6 364.9,205.6 367.9,202.6C370.9,199.6 372.4,198.9 377.9,197.6C383.4,196.3 389.6,198.3 395.4,196.3C401.2,194.3 404.2,191.2 406.7,187.5C409.2,183.8 409.2,180.7 408,177.8C406.8,174.9 402.8,174.8 400.5,172.8C398.2,170.8 397.5,171.3 396.7,167.8C395.9,164.3 396.9,160.2 396.7,155.2C396.5,150.2 396.7,146.7 395.5,142.7C394.3,138.7 393.5,137.2 390.5,135.2C387.5,133.2 385.5,133 380.5,132.7C375.5,132.4 370.4,132.9 365.4,133.9C360.4,134.9 359.4,135.9 355.4,137.7C351.4,139.5 349.4,140.9 345.4,142.7C341.4,144.5 340.3,145.7 335.3,146.5C330.3,147.3 327.3,146.3 320.3,146.5C313.3,146.7 307.8,146.4 300.3,147.7C292.8,149 288.2,150.8 282.7,153C277.2,155.2 276.7,157 272.7,158.5C268.7,160 266.2,159.5 262.7,160.5C259.2,161.5 258.2,162.8 255,163.5C251.8,164.2 250.3,162.2 246.9,164C243.5,165.8 242.1,169 238.1,172.7C234.1,176.4 231.3,179.9 226.8,182.7C222.3,185.5 218.8,188.5 215.5,186.5C212.2,184.5 212.4,177.2 210.5,172.7C208.6,168.2 205.5,168.3 206,164C206.5,159.7 210.6,156.7 213,151.4C215.4,146.1 215.2,143.1 218,137.6C220.8,132.1 223.8,127.6 226.8,123.8C229.8,120 230.2,120.4 233,118.5C235.8,116.6 237.6,115.6 241,114.5Z"/>
<path fill="#A3D3E6" d="M106.5,147.6C107.1,144.3 108.3,141 110.3,138.9C112.3,136.8 113.7,136.1 116.5,137.1C119.3,138.1 122.3,140.8 124.1,143.9C125.9,147 125.6,148.9 125.3,152.7C125,156.5 124.3,160 122.8,162.7C121.3,165.4 120.1,166.4 117.8,166.4C115.5,166.4 113.6,164.9 111.5,162.7C109.4,160.5 108.3,158.2 107.3,155.2C106.3,152.2 105.9,150.9 106.5,147.6Z"/>
<path fill="#A3D3E6" d="M87.7,187C88.9,185.9 91.2,184.6 94,184.2C96.8,183.8 99.5,184.4 101.5,185.2C103.5,186 104.5,186.9 104,188.2C103.5,189.5 101.3,190.7 99,191.5C96.7,192.3 94.9,192.7 92.7,192.3C90.5,191.9 89.2,190.8 88.2,189.7C87.2,188.6 86.5,188.1 87.7,187Z"/>
<path fill="#A3D3E6" d="M155.4,232.7C154.9,228.9 154.6,227.4 156.6,223.9C158.6,220.4 161.6,218.4 165.4,215.1C169.2,211.8 170.9,210.4 175.4,207.6C179.9,204.8 183,204.1 188,201.3C193,198.5 196,195 200.5,193.8C205,192.6 207,193.8 210.5,195.1C214,196.4 215,198.1 218,200.1C221,202.1 223.8,202.6 225.6,205.1C227.4,207.6 227.6,209.1 226.8,212.6C226,216.1 223,218.6 221.8,222.6C220.6,226.6 220.6,229.2 220.6,232.7C220.6,236.2 222.8,237.2 221.8,240.2C220.8,243.2 219.3,245.2 215.5,247.7C211.7,250.2 208.5,251.4 203,252.7C197.5,254 193.5,253.5 188,254C182.5,254.5 179.9,256 175.4,255.2C170.9,254.4 168.7,252.7 165.4,250.2C162.1,247.7 161.1,246.2 159.1,242.7C157.1,239.2 155.9,236.5 155.4,232.7Z"/>
<path fill="#A3D3E6" d="M260.7,222.6C260.7,219.3 262.7,216.1 265.7,212.6C268.7,209.1 271.2,207.1 275.7,205.1C280.2,203.1 283.2,202.6 288.2,202.6C293.2,202.6 296.3,203.6 300.8,205.1C305.3,206.6 307.6,207.3 310.8,210.1C314,212.9 316.5,216.1 317,218.9C317.5,221.7 316,222.7 313.3,223.9C310.6,225.1 306.8,224.1 303.3,225.1C299.8,226.1 298.7,227.6 295.7,228.9C292.7,230.2 292.2,230.6 288.2,231.4C284.2,232.2 280.2,233.2 275.7,232.7C271.2,232.2 268.7,230.9 265.7,228.9C262.7,226.9 260.7,225.9 260.7,222.6Z"/>
<path fill="#A3D3E6" d="M260.4,290.1C261.4,285.1 262.4,284.8 265.4,282.5C268.4,280.2 270.9,279.3 275.4,278.8C279.9,278.3 284,278.3 288,280C292,281.7 293.8,283.5 295.5,287.5C297.2,291.5 296.2,294.6 296.7,300.1C297.2,305.6 296.7,309.6 298,315.1C299.3,320.6 300.5,323.1 303,327.6C305.5,332.1 307.7,334.4 310.5,337.7C313.3,341 315.3,340.4 316.8,343.9C318.3,347.4 319.8,351.4 318,355.2C316.2,359 312,359.9 308,362.7C304,365.5 302.5,367.5 298,369C293.5,370.5 290,369.5 285.5,370.3C281,371.1 278.4,373.1 275.4,372.8C272.4,372.5 271.6,373 270.4,369C269.2,365 269.9,359 269.2,352.7C268.5,346.4 268,343.7 266.7,337.7C265.4,331.7 264.2,328.6 262.9,322.6C261.6,316.6 260.9,314.1 260.4,307.6C259.9,301.1 259.4,295.1 260.4,290.1Z"/>
<path fill="#A3D3E6" d="M350.4,362C351.2,359.3 352.5,357.4 355.2,356C357.9,354.6 360.5,354.3 364,355.2C367.5,356.1 369.9,357.6 372.7,360.5C375.5,363.4 377.5,366.2 377.9,369.5C378.3,372.8 377.1,374.8 374.5,377C371.9,379.2 368.6,380.5 365,380.3C361.4,380.1 359.3,378.2 356.5,376C353.7,373.8 352.2,372.3 351,369.5C349.8,366.7 349.6,364.7 350.4,362Z"/>
<path fill="#A3D3E6" d="M516.8,302.6C517.6,300.1 521,297.2 524.4,296.3C527.8,295.4 532.1,294.9 534,298C535.9,301.1 536.7,309.8 534,312C531.3,314.2 524,310.7 520.6,308.8C517.2,306.9 516,305.1 516.8,302.6Z"/>
<path fill="#A3D3E6" d="M453,481.5C452.7,479.7 455.2,477.2 458,476.5C460.8,475.8 465.8,475.7 467,478C468.2,480.3 465.5,486.5 464,488C462.5,489.5 461.5,486.6 459.3,485.3C457.1,484 453.3,483.3 453,481.5Z"/>
<path fill="#E9F6E7" d="M433,235.2C432.1,241.3 434,247.2 435.5,252.7C437,258.2 437.6,260.2 440.6,262.7C443.6,265.2 445.6,265.2 450.6,265.2C455.6,265.2 461.1,264.7 465.6,262.7C470.1,260.7 472.1,259.2 473.1,255.2C474.1,251.2 470.6,247.2 470.6,242.7C470.6,238.2 471.1,235.5 473.1,232.7C475.1,229.9 481.3,231.8 480.7,228.9C480.1,226 478.1,219.4 470,218C461.9,216.6 447.4,218.6 440,222C432.6,225.4 433.9,229.1 433,235.2Z"/>
<path fill="#E9F6E7" d="M447.5,293.8C448,292.5 449.4,290.6 451,290.5C452.6,290.4 455.3,292.1 455.5,293.5C455.7,294.9 453.4,296.8 452,297.5C450.6,298.2 449.4,297.7 448.5,297C447.6,296.3 447,295.1 447.5,293.8Z"/>
<path fill="#FEE99E" d="M445.6,231.4C447.7,229.1 451.8,228.6 455.6,228.9C459.4,229.2 462.6,229.4 464.4,232.7C466.2,236 464.9,240.7 464.4,245.2C463.9,249.7 464.2,252.7 461.9,255.2C459.6,257.7 456.1,258.7 453.1,257.7C450.1,256.7 448.4,253.7 446.8,250.2C445.2,246.7 445.3,244 445.1,240.2C444.9,236.4 443.5,233.7 445.6,231.4Z"/>
<path fill="#FEE99E" d="M490.5,282.5C491.2,280.5 492.5,278.5 495.5,277.5C498.5,276.5 501.8,276.2 505.6,277.5C509.4,278.8 512.8,281 514.3,283.8C515.8,286.6 514.8,288.8 513.1,291.3C511.4,293.8 508.9,295.8 505.6,296.3C502.3,296.8 499.6,295.6 496.8,293.8C494,292 493.1,289.8 491.8,287.5C490.5,285.2 489.8,284.5 490.5,282.5Z"/>
<path fill="#598DC0" d="M428.1,134C424.2,136.9 426.1,139.5 425.6,142.7C425.1,145.9 424.4,146.7 425.6,150.2C426.8,153.7 430.1,155.8 431.8,160.3C433.5,164.8 434.3,168.4 434.3,172.8C434.3,177.2 433.6,178.8 431.8,182.5C430,186.2 429.3,188.5 425.5,191.3C421.7,194.1 417.5,194 413,196.3C408.5,198.6 406,200.3 403,202.6C400,204.9 397.9,205.1 397.9,207.6C397.9,210.1 400,212.6 403,215.1C406,217.6 409,219.8 413,220.1C417,220.4 419.2,217.8 423,216.4C426.8,215 427.6,215.3 432,213C436.4,210.7 439,213.6 445,205C451,196.4 458,183 462,170C466,157 468.4,148.4 465,140C461.6,131.6 452.4,129.2 445,128C437.6,126.8 432,131.1 428.1,134Z"/>
<path fill="#598DC0" d="M181.7,227.6C182.3,225.6 183.2,224.1 185.5,222.6C187.8,221.1 190,220.3 193,220.1C196,219.9 198,219.9 200.5,221.4C203,222.9 204,224.8 205.5,227.6C207,230.4 209,232.4 208,235.2C207,238 203.3,240.9 200.5,241.4C197.7,241.9 197,238.7 194.2,237.7C191.4,236.7 189,237.4 186.7,236.4C184.4,235.4 183.5,234.5 182.5,232.7C181.5,230.9 181.1,229.6 181.7,227.6Z"/>
<path fill="#598DC0" d="M269.4,215.1C271.9,214 281.2,213.1 283.2,214.6C285.2,216.1 280.9,220.4 279.4,222.6C277.9,224.8 277.4,226.1 275.7,225.6C274,225.1 272,222.2 270.7,220.1C269.4,218 266.9,216.2 269.4,215.1Z"/>
<path fill="#598DC0" d="M478.1,242.7C478.1,239.9 480.2,238.5 483.2,236.4C486.2,234.3 488.6,230.1 493,232C497.4,233.9 503.7,241.6 505,246C506.3,250.4 502.3,252.4 499.4,254C496.5,255.6 493.9,254.8 490.7,254C487.5,253.2 485.7,252.5 483.2,250.2C480.7,247.9 478.1,245.5 478.1,242.7Z"/>
<path fill="#FCA55D" d="M174.2,131.4C177.5,131.4 181.2,131.4 184.2,133.9C187.2,136.4 188.7,139.6 189.2,143.9C189.7,148.2 189,151.8 186.7,155.2C184.4,158.6 181.7,160 177.9,160.7C174.1,161.4 171.1,160.8 167.9,158.9C164.7,157 162.7,154.9 161.7,151.4C160.7,147.9 161.7,144.9 162.9,141.4C164.1,137.9 165.6,135.9 167.9,133.9C170.2,131.9 170.9,131.4 174.2,131.4Z"/>
<path fill="#FCA55D" d="M246.9,191.3C249.3,188.8 252.1,187.7 255.6,187.5C259.1,187.3 262.1,187.8 264.4,190.1C266.7,192.4 267.4,195.1 266.9,198.8C266.4,202.5 264.7,205.3 261.9,208.8C259.1,212.3 256.1,214.6 253.1,216.4C250.1,218.2 248.9,218.9 246.9,217.6C244.9,216.3 243.8,213.6 243.1,210.1C242.4,206.6 242.8,203.9 243.6,200.1C244.4,196.3 244.5,193.8 246.9,191.3Z"/>
<path fill="#FCA55D" d="M188,280.3C189.1,277.5 190,275.1 193,272.8C196,270.5 198.5,270 203,269C207.5,268 211,269 215.5,267.7C220,266.4 221.6,264.4 225.6,262.7C229.6,261 232.1,258.5 235.6,259C239.1,259.5 241,262 243.1,265.2C245.2,268.4 245.5,271.6 246,275C246.5,278.4 246.3,279 245.4,282C244.5,285 244.1,286.5 241.6,290.1C239.1,293.7 237.1,296.9 232.8,300.1C228.5,303.3 225.3,304.6 220.3,306.3C215.3,308 212.3,308.8 207.8,308.8C203.3,308.8 201,308.5 197.7,306.3C194.4,304.1 193.5,301.5 191.5,297.6C189.5,293.7 188.4,290.5 187.7,287C187,283.5 186.9,283.1 188,280.3Z"/>
<path fill="#FCA55D" d="M283.9,254C284.5,252 286.1,249.5 288.9,247.7C291.7,245.9 293.4,245 297.7,245.2C302,245.4 305.2,247.6 310.2,248.9C315.2,250.2 319,250 322.8,251.5C326.6,253 327,253.5 329,256.5C331,259.5 332.3,263.2 332.8,266.5C333.3,269.8 333,271 331.5,272.8C330,274.6 327.5,276.1 325.3,275.3C323.1,274.5 322.3,271.5 320.3,269C318.3,266.5 318.2,264.2 315.2,262.7C312.2,261.2 309.7,262 305.2,261.5C300.7,261 296.6,261 292.7,260.2C288.8,259.4 287.5,258.9 285.7,257.7C283.9,256.5 283.3,256 283.9,254Z"/>
<path fill="#FCA55D" d="M323.5,317.6C323.8,314.9 324.8,312.9 327.5,311C330.2,309.1 333.2,308.3 337,308.1C340.8,307.9 343.7,308.4 346.5,310C349.3,311.6 350.4,313.4 351,316C351.6,318.6 351.1,320.7 349.5,323C347.9,325.3 346.4,326.6 343,327.7C339.6,328.8 335.9,329.1 332.5,328.5C329.1,327.9 327.8,326.7 326,324.5C324.2,322.3 323.2,320.3 323.5,317.6Z"/>
<path fill="#FCA55D" d="M369.1,264C369.3,263 371.8,261.4 374.1,261.5C376.4,261.6 380.6,263.7 380.4,264.7C380.2,265.7 375.2,266.6 372.9,266.5C370.6,266.4 368.9,265 369.1,264Z"/>
<path fill="#FCA55D" d="M427.9,350.2C428.9,347.2 431.4,345 435.4,342.7C439.4,340.4 443.4,339.2 447.9,338.9C452.4,338.6 454.5,339.6 458,341.4C461.5,343.2 462.5,345.4 465.5,347.7C468.5,350 469.1,349.8 473,352.7C476.9,355.6 485.6,352.5 485,362C484.4,371.5 475.8,389.6 470,400C464.2,410.4 460.9,410.5 456,414C451.1,417.5 449.1,416.4 445.5,417.6C441.9,418.8 438.9,418.6 437.9,420.1C436.9,421.6 439.7,422.6 440.5,425.1C441.3,427.6 442.2,429.8 441.7,432.6C441.2,435.4 440.2,437.4 437.9,438.9C435.6,440.4 433.9,441.2 430.4,440.2C426.9,439.2 424.4,435.7 420.4,433.9C416.4,432.1 414.4,431.4 410.4,431.4C406.4,431.4 403.9,432.4 400.4,433.9C396.9,435.4 395.8,436.1 392.8,438.9C389.8,441.7 387.8,444.4 385.3,447.7C382.8,451 383,452.3 380.3,455.2C377.6,458.1 377.7,463 372,462C366.3,461 357.1,454.9 352,450C346.9,445.1 346.9,440.8 346.5,437.6C346.1,434.4 348.5,435.9 350.2,433.9C351.9,431.9 352.7,430.4 355.2,427.6C357.7,424.8 359.3,422.9 362.8,420.1C366.3,417.3 367.3,415.6 372.8,413.8C378.3,412 383.8,413 390.3,411.3C396.8,409.6 400.9,408.9 405.4,405.1C409.9,401.3 411.2,397 412.9,392.5C414.6,388 413.1,386.7 414.1,382.8C415.1,378.9 415.6,376.3 417.9,372.8C420.2,369.3 422.9,368.2 425.4,365.2C427.9,362.2 429.9,360.7 430.4,357.7C430.9,354.7 426.9,353.2 427.9,350.2Z"/>
<path fill="#FCA55D" d="M490.5,347.7C491.3,344.5 495.3,340.2 498,338.9C500.7,337.6 503,338.6 504,341C505,343.4 505,348.2 503,351C501,353.8 496.5,355.7 494,355C491.5,354.3 489.7,350.9 490.5,347.7Z"/>
<path fill="#E34A33" d="M248.1,201.3C249.4,198.8 251.9,197.6 254.4,197.6C256.9,197.6 259.5,199.3 260.7,201.3C261.9,203.3 261.5,205.4 260.2,207.6C258.9,209.8 256.8,211.6 254.4,212.1C252,212.6 249.4,212.3 248.1,210.1C246.8,207.9 246.8,203.8 248.1,201.3Z"/>
<path fill="#E34A33" d="M197.7,282.5C197.7,279.7 197.8,278.9 200.3,277.5C202.8,276.1 206.3,275.2 210.3,275.5C214.3,275.8 217.8,277.1 220.3,278.8C222.8,280.5 223.3,281.3 222.8,283.8C222.3,286.3 220.8,289.3 217.8,291.3C214.8,293.3 211.3,293.8 207.8,293.8C204.3,293.8 202.3,293.6 200.3,291.3C198.3,289 197.7,285.3 197.7,282.5Z"/>
<path fill="#E34A33" d="M429.1,377.8C429.7,374.6 430.6,370.8 432.9,367.8C435.2,364.8 436.9,363.7 440.4,362.7C443.9,361.7 446.9,361.7 450.4,362.7C453.9,363.7 455.7,365.3 458,367.8C460.3,370.3 461.5,372.1 461.7,375.3C461.9,378.5 461,380.5 459.2,384C457.4,387.5 456.2,390.5 452.9,392.8C449.6,395.1 446.7,395.8 442.9,395.3C439.1,394.8 436.7,392.6 434.1,390.3C431.5,388 430.9,386.5 429.9,384C428.9,381.5 428.5,381 429.1,377.8Z"/>
<use href="#lines"/>
</g>
<path d="M10.7,154L25.2,145.4L34.7,140.6L61.5,123.7L83,110L96.3,105L96.5,98.8L101.5,97.6L103.3,102.1L122.3,97.1L124,102.6L122,110.1L123.5,113.9L124.8,118.9L130.3,123.2L141.6,122.7L142.4,113.9L150.4,111.4L160.4,114.6L170.4,118.9L178.4,120.7L179.2,130.7L190.5,129.7L193,133.2L200.5,128.9L208,124.7L218,121.4L229.3,113.9L239.3,102.6L235.6,97.1L250.6,95.8L253.1,99.6L261.9,98.8L264.4,93.8L260.6,87.6L258.1,80.1L271.9,74.5L278.7,73.8L280.2,85.1L295.7,85.1L300.8,76.3L308.8,68.8L316.3,71.3L319.5,78.8L317.5,83.8L310,85L311.3,87.6L323.8,88.1L330,92.1L337.6,86.3L342.6,73.8L345.1,71.8L352.6,76.3L355.1,85.1L351.4,91.3L358.9,101.4L360.2,108.9L370.2,107.6L373.9,112.6L373.2,120.2L386.5,117.6L389,119.6L396.5,118.1L405.3,111.9L410.3,112.6L415.8,120.2L416.5,127.7L425.3,131.4L429.7,136.2L436.8,135.5L440.7,134.7L445.5,137.9L446.4,142L451.8,139.4L456.2,144.5L451.8,148.9L453.3,153.3L449.4,155.2L449.1,161.5L445.5,163.1L444.7,167.8L446.2,174.1L443.1,178.9L441.5,182L444,186.3L437.8,195.1L430.3,202.6L429,210.1L432.8,216.4L436.5,220.1L436.5,227.1L444,222.6L449,226.4L455.3,225.6L460.3,224.6L466.6,228.1L472.9,226.4L480.4,228.9L484.1,233.2L492.9,234.7L497.9,242.7L502.9,250.2L502.9,255.2L514.2,255.2L510.5,262.7L502.9,271.5L509.2,281.5L520.5,281.5L525.5,285.3L530.5,293.8L529.2,305L535.5,316.3L530.5,321.4L523,320.1L518,330.1L510.5,336.4L502.9,341.4L505.4,348.9L500.4,352.7L501.7,358.9L496.7,361.5L495.4,355.2L487.9,355.2L482.9,350.2L475.4,355.2L472.9,361.5L466.6,366.5L462.8,376.5L456.6,387.8L457.8,394L450.3,400.3L445.5,411.3L450.5,416.3L445.5,421.4L446.7,430.1L453,436.4L458,445.2L464.3,448.9L466.8,457.7L469.3,466.5L463,474L464.3,481.5L458,486.5L450.5,485.3L445.5,487.8L440.5,486.5L432.9,487.8L427.4,495.8L422.9,492.8L415.4,494L407.9,497.8L405.4,485.3L402.9,477.7L396.6,470.2L391.6,472.7L386.6,471.5L389.1,466.5L384.1,461.5L377.8,456.4L367.8,455.2L362.8,451.4L360.3,446.4L355.2,442.7L346.5,438.9L335.2,433.9L322.7,435.1L324.7,427.6L322.7,420.1L326.4,412.6L322.7,403.8L313.9,397.5L318,387.8L319.3,380.3L321.8,370.2L326.8,365.2L326.8,360.2L318,357.2L310.5,362.7L303,371.5L300.5,379L300,391.5L283,397.8L266.7,403.3L247.9,397.8L232.8,399.8L226.6,395.3L224.1,386.5L227.8,380.3L235.3,374L230.3,364L224.1,361.5L226.6,352.7L227.8,343.9L235.3,338.1L234.1,333.9L225.3,335.1L222.8,328.9L217.8,322.6L209,315.1L200.3,317.1L191.5,319.6L182.7,315.1L170.2,316.3L166.4,324.6L162.7,321.4L160.2,312.6L160.2,295L155.4,287.8L147.9,282.8L137.8,284L139.1,279L135.3,276.5L127.8,280.3L120.3,283.3L112.8,279L109,270.2L105.3,255.2L104.5,241.6L101.5,236.5L96.5,230.3L91.5,221.5L86.5,219.7L80.2,222.3L72.7,226.5L61.4,234L57.6,239.8L51.4,237.8L48.9,232.8L41.4,231.5L37.6,222.8L30,214.7L21.3,211.5L18.8,205.2L16.3,191.4L20,180.2L15,173.9L13.8,167.6Z" fill="none" stroke="#1c1c1c" stroke-width="2" stroke-linejoin="round"/>
<ellipse cx="331.3" cy="82" rx="2.8" ry="3.7" transform="rotate(30 331.3 82)" fill="#111"/>
</g>
<use href="#logo"/>
<use href="#logo" x="640"/>
<text class="t1" x="79" y="30.5">Température journalière minimale</text>
<text class="t2" x="78.6" y="51.4">moyenne août 2025</text>
<text class="t1" x="719" y="30.5">Ecart à la normale de la température journalière minimale</text>
<text class="t2" x="718.5" y="51.4">moyenne août 2025 par rapport à la normale mensuelle 1991-2020</text>
<text x="617.3" y="73.7" style="font-size:13.8px;font-weight:bold;">°C</text>
<text x="1217.2" y="73.8" style="font-size:14.3px;font-weight:bold;">Ecart °C</text>
<g class="lg"><rect x="563" y="96" width="26" height="36.4" fill="#A50026"/><rect x="563" y="132" width="26" height="36.4" fill="#D73027"/><rect x="563" y="168" width="26" height="36.4" fill="#F46D43"/><rect x="563" y="203.9" width="26" height="36.4" fill="#FDAE61"/><rect x="563" y="239.9" width="26" height="36.4" fill="#FEE090"/><rect x="563" y="275.9" width="26" height="36.4" fill="#FFFFBF"/><rect x="563" y="311.9" width="26" height="36.4" fill="#E0F3F8"/><rect x="563" y="347.9" width="26" height="36.4" fill="#ABD9E9"/><rect x="563" y="383.9" width="26" height="36.4" fill="#74ADD1"/><rect x="563" y="419.8" width="26" height="36.4" fill="#4575B4"/><rect x="563" y="455.8" width="26" height="36" fill="#313695"/><text x="601.3" y="101.8">15</text><text x="601.3" y="137.7">14.5</text><text x="601.3" y="173.5">14</text><text x="601.3" y="209.4">13.5</text><text x="601.3" y="245.3">13</text><text x="601.3" y="281.2">12.5</text><text x="601.3" y="317">12</text><text x="601.3" y="352.9">11.5</text><text x="601.3" y="388.8">11</text><text x="601.3" y="424.7">10.5</text><text x="601.3" y="460.5">10</text><text x="601.3" y="496.4">9.5</text></g>
<g class="lg"><rect x="1203" y="96" width="26" height="49.9" fill="#A50026"/><rect x="1203" y="145.5" width="26" height="49.9" fill="#E34A33"/><rect x="1203" y="194.9" width="26" height="49.9" fill="#FCA55D"/><rect x="1203" y="244.4" width="26" height="49.9" fill="#FEE99E"/><rect x="1203" y="293.9" width="26" height="49.9" fill="#E9F6E7"/><rect x="1203" y="343.4" width="26" height="49.9" fill="#A3D3E6"/><rect x="1203" y="392.9" width="26" height="49.9" fill="#598DC0"/><rect x="1203" y="442.3" width="26" height="49.5" fill="#313695"/><text x="1241.5" y="101.8">2</text><text x="1241.5" y="151.1">1.5</text><text x="1241.5" y="200.4">1</text><text x="1241.5" y="249.8">0.5</text><text x="1241.5" y="299.1">0</text><text x="1241.5" y="348.4">-0.5</text><text x="1241.5" y="397.8">-1</text><text x="1241.5" y="447.1">-1.5</text><text x="1241.5" y="496.4">-2</text></g>
</svg>
</body></html>
